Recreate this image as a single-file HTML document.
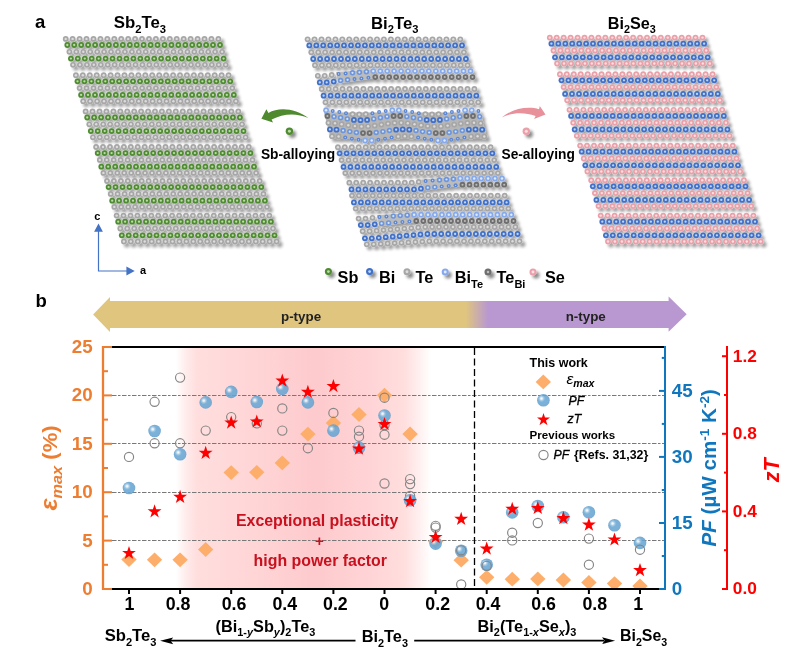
<!DOCTYPE html><html><head><meta charset="utf-8"><title>Figure</title><style>html,body{margin:0;padding:0;background:#fff}svg{display:block}text{font-family:"Liberation Sans",Arial,sans-serif}</style></head><body>
<svg width="793" height="652" viewBox="0 0 793 652">
<defs><g id="aG"><circle r="2.9" fill="#a6a6a6"/><circle r="1.2" fill="#dcdcdc"/></g><g id="aS"><circle r="2.9" fill="#4f8b30"/><circle r="1.15" fill="#bcdcaa"/></g><g id="aB"><circle r="2.9" fill="#4070c8"/><circle r="1.15" fill="#c2d6f6"/></g><g id="aP"><circle r="2.9" fill="#eb9fa8"/><circle r="1.2" fill="#fbe0e2"/></g><g id="aL"><circle r="2.9" fill="#86a9ea"/><circle r="1.2" fill="#e0eaff"/></g><g id="aD"><circle r="2.9" fill="#6e6e6e"/><circle r="1.05" fill="#bcbcbc"/></g><g id="aM"><circle r="2.7" fill="#6c95dc"/><circle r="1.1" fill="#d8e4fa"/></g><g id="as"><circle r="2.0" fill="#5c86d2"/><circle r="0.65" fill="#c4d5f4"/></g><filter id="sh" x="-10%" y="-10%" width="125%" height="125%"><feGaussianBlur in="SourceAlpha" stdDeviation="1.5"/><feOffset dx="3.0" dy="3.0"/><feComponentTransfer result="shd"><feFuncA type="linear" slope="0.38"/></feComponentTransfer><feGaussianBlur in="SourceGraphic" stdDeviation="0.5" result="soft"/><feMerge><feMergeNode in="shd"/><feMergeNode in="soft"/></feMerge></filter><filter id="sh2" x="-100%" y="-100%" width="400%" height="400%"><feDropShadow dx="3" dy="3" stdDeviation="1.6" flood-color="#000" flood-opacity="0.45"/></filter><radialGradient id="sph" cx="0.5" cy="0.5" r="0.5"><stop offset="0" stop-color="#6aa9d6"/><stop offset="0.8" stop-color="#68a6d3"/><stop offset="1" stop-color="#5f9ecd"/></radialGradient><radialGradient id="glint" cx="0.5" cy="0.5" r="0.5"><stop offset="0" stop-color="#fff" stop-opacity="0.98"/><stop offset="0.25" stop-color="#fff" stop-opacity="0.8"/><stop offset="0.6" stop-color="#fff" stop-opacity="0.3"/><stop offset="1" stop-color="#fff" stop-opacity="0"/></radialGradient><linearGradient id="pink" x1="0" x2="1" y1="0" y2="0"><stop offset="0.0000" stop-color="#ffdede" stop-opacity="0"/><stop offset="0.0391" stop-color="#ffdede" stop-opacity="0.6"/><stop offset="0.0820" stop-color="#ffdede" stop-opacity="1"/><stop offset="0.3086" stop-color="#ffd5d6" stop-opacity="1"/><stop offset="0.5430" stop-color="#fdcacd" stop-opacity="1"/><stop offset="0.7578" stop-color="#ffd4d6" stop-opacity="1"/><stop offset="0.8906" stop-color="#ffdede" stop-opacity="1"/><stop offset="0.9414" stop-color="#ffdede" stop-opacity="0.55"/><stop offset="0.9961" stop-color="#ffdede" stop-opacity="0"/></linearGradient><linearGradient id="ban" x1="0" x2="1" y1="0" y2="0"><stop offset="0.0000" stop-color="#dfc57e"/><stop offset="0.6279" stop-color="#dfc57e"/><stop offset="0.6650" stop-color="#b998d1"/><stop offset="1.0000" stop-color="#b998d1"/></linearGradient><clipPath id="plot"><rect x="104" y="348" width="560" height="240"/></clipPath></defs>
<rect width="793" height="652" fill="#fff"/>
<g filter="url(#sh)"><use href="#aG" x="65.7" y="38.9"/><use href="#aG" x="72.6" y="38.9"/><use href="#aG" x="79.6" y="38.9"/><use href="#aG" x="86.5" y="38.9"/><use href="#aG" x="93.5" y="38.9"/><use href="#aG" x="100.4" y="38.9"/><use href="#aG" x="107.3" y="38.9"/><use href="#aG" x="114.3" y="38.9"/><use href="#aG" x="121.2" y="38.9"/><use href="#aG" x="128.2" y="38.9"/><use href="#aG" x="135.1" y="38.9"/><use href="#aG" x="142.0" y="38.9"/><use href="#aG" x="149.0" y="38.9"/><use href="#aG" x="155.9" y="38.9"/><use href="#aG" x="162.9" y="38.9"/><use href="#aG" x="169.8" y="38.9"/><use href="#aG" x="176.7" y="38.9"/><use href="#aG" x="183.7" y="38.9"/><use href="#aG" x="190.6" y="38.9"/><use href="#aG" x="197.6" y="38.9"/><use href="#aG" x="204.5" y="38.9"/><use href="#aG" x="211.4" y="38.9"/><use href="#aG" x="218.4" y="38.9"/><use href="#aS" x="67.3" y="45.0"/><use href="#aS" x="74.2" y="45.0"/><use href="#aS" x="81.2" y="45.0"/><use href="#aS" x="88.1" y="45.0"/><use href="#aS" x="95.1" y="45.0"/><use href="#aS" x="102.0" y="45.0"/><use href="#aS" x="108.9" y="45.0"/><use href="#aS" x="115.9" y="45.0"/><use href="#aS" x="122.8" y="45.0"/><use href="#aS" x="129.8" y="45.0"/><use href="#aS" x="136.7" y="45.0"/><use href="#aS" x="143.6" y="45.0"/><use href="#aS" x="150.6" y="45.0"/><use href="#aS" x="157.5" y="45.0"/><use href="#aS" x="164.5" y="45.0"/><use href="#aS" x="171.4" y="45.0"/><use href="#aS" x="178.3" y="45.0"/><use href="#aS" x="185.3" y="45.0"/><use href="#aS" x="192.2" y="45.0"/><use href="#aS" x="199.2" y="45.0"/><use href="#aS" x="206.1" y="45.0"/><use href="#aS" x="213.0" y="45.0"/><use href="#aS" x="220.0" y="45.0"/><use href="#aG" x="69.4" y="51.8"/><use href="#aG" x="76.3" y="51.8"/><use href="#aG" x="83.3" y="51.8"/><use href="#aG" x="90.2" y="51.8"/><use href="#aG" x="97.2" y="51.8"/><use href="#aG" x="104.1" y="51.8"/><use href="#aG" x="111.0" y="51.8"/><use href="#aG" x="118.0" y="51.8"/><use href="#aG" x="124.9" y="51.8"/><use href="#aG" x="131.9" y="51.8"/><use href="#aG" x="138.8" y="51.8"/><use href="#aG" x="145.7" y="51.8"/><use href="#aG" x="152.7" y="51.8"/><use href="#aG" x="159.6" y="51.8"/><use href="#aG" x="166.6" y="51.8"/><use href="#aG" x="173.5" y="51.8"/><use href="#aG" x="180.4" y="51.8"/><use href="#aG" x="187.4" y="51.8"/><use href="#aG" x="194.3" y="51.8"/><use href="#aG" x="201.3" y="51.8"/><use href="#aG" x="208.2" y="51.8"/><use href="#aG" x="215.1" y="51.8"/><use href="#aG" x="222.1" y="51.8"/><use href="#aS" x="70.9" y="58.6"/><use href="#aS" x="77.8" y="58.6"/><use href="#aS" x="84.8" y="58.6"/><use href="#aS" x="91.7" y="58.6"/><use href="#aS" x="98.7" y="58.6"/><use href="#aS" x="105.6" y="58.6"/><use href="#aS" x="112.5" y="58.6"/><use href="#aS" x="119.5" y="58.6"/><use href="#aS" x="126.4" y="58.6"/><use href="#aS" x="133.4" y="58.6"/><use href="#aS" x="140.3" y="58.6"/><use href="#aS" x="147.2" y="58.6"/><use href="#aS" x="154.2" y="58.6"/><use href="#aS" x="161.1" y="58.6"/><use href="#aS" x="168.1" y="58.6"/><use href="#aS" x="175.0" y="58.6"/><use href="#aS" x="181.9" y="58.6"/><use href="#aS" x="188.9" y="58.6"/><use href="#aS" x="195.8" y="58.6"/><use href="#aS" x="202.8" y="58.6"/><use href="#aS" x="209.7" y="58.6"/><use href="#aS" x="216.6" y="58.6"/><use href="#aS" x="223.6" y="58.6"/><use href="#aG" x="73.0" y="64.8"/><use href="#aG" x="79.9" y="64.8"/><use href="#aG" x="86.9" y="64.8"/><use href="#aG" x="93.8" y="64.8"/><use href="#aG" x="100.8" y="64.8"/><use href="#aG" x="107.7" y="64.8"/><use href="#aG" x="114.6" y="64.8"/><use href="#aG" x="121.6" y="64.8"/><use href="#aG" x="128.5" y="64.8"/><use href="#aG" x="135.5" y="64.8"/><use href="#aG" x="142.4" y="64.8"/><use href="#aG" x="149.3" y="64.8"/><use href="#aG" x="156.3" y="64.8"/><use href="#aG" x="163.2" y="64.8"/><use href="#aG" x="170.2" y="64.8"/><use href="#aG" x="177.1" y="64.8"/><use href="#aG" x="184.0" y="64.8"/><use href="#aG" x="191.0" y="64.8"/><use href="#aG" x="197.9" y="64.8"/><use href="#aG" x="204.9" y="64.8"/><use href="#aG" x="211.8" y="64.8"/><use href="#aG" x="218.7" y="64.8"/><use href="#aG" x="225.7" y="64.8"/><use href="#aG" x="75.9" y="75.2"/><use href="#aG" x="82.8" y="75.2"/><use href="#aG" x="89.8" y="75.2"/><use href="#aG" x="96.7" y="75.2"/><use href="#aG" x="103.7" y="75.2"/><use href="#aG" x="110.6" y="75.2"/><use href="#aG" x="117.5" y="75.2"/><use href="#aG" x="124.5" y="75.2"/><use href="#aG" x="131.4" y="75.2"/><use href="#aG" x="138.4" y="75.2"/><use href="#aG" x="145.3" y="75.2"/><use href="#aG" x="152.2" y="75.2"/><use href="#aG" x="159.2" y="75.2"/><use href="#aG" x="166.1" y="75.2"/><use href="#aG" x="173.1" y="75.2"/><use href="#aG" x="180.0" y="75.2"/><use href="#aG" x="186.9" y="75.2"/><use href="#aG" x="193.9" y="75.2"/><use href="#aG" x="200.8" y="75.2"/><use href="#aG" x="207.8" y="75.2"/><use href="#aG" x="214.7" y="75.2"/><use href="#aG" x="221.6" y="75.2"/><use href="#aG" x="228.6" y="75.2"/><use href="#aS" x="77.5" y="81.3"/><use href="#aS" x="84.4" y="81.3"/><use href="#aS" x="91.4" y="81.3"/><use href="#aS" x="98.3" y="81.3"/><use href="#aS" x="105.3" y="81.3"/><use href="#aS" x="112.2" y="81.3"/><use href="#aS" x="119.1" y="81.3"/><use href="#aS" x="126.1" y="81.3"/><use href="#aS" x="133.0" y="81.3"/><use href="#aS" x="140.0" y="81.3"/><use href="#aS" x="146.9" y="81.3"/><use href="#aS" x="153.8" y="81.3"/><use href="#aS" x="160.8" y="81.3"/><use href="#aS" x="167.7" y="81.3"/><use href="#aS" x="174.7" y="81.3"/><use href="#aS" x="181.6" y="81.3"/><use href="#aS" x="188.5" y="81.3"/><use href="#aS" x="195.5" y="81.3"/><use href="#aS" x="202.4" y="81.3"/><use href="#aS" x="209.4" y="81.3"/><use href="#aS" x="216.3" y="81.3"/><use href="#aS" x="223.2" y="81.3"/><use href="#aS" x="230.2" y="81.3"/><use href="#aG" x="79.6" y="88.1"/><use href="#aG" x="86.5" y="88.1"/><use href="#aG" x="93.5" y="88.1"/><use href="#aG" x="100.4" y="88.1"/><use href="#aG" x="107.4" y="88.1"/><use href="#aG" x="114.3" y="88.1"/><use href="#aG" x="121.2" y="88.1"/><use href="#aG" x="128.2" y="88.1"/><use href="#aG" x="135.1" y="88.1"/><use href="#aG" x="142.1" y="88.1"/><use href="#aG" x="149.0" y="88.1"/><use href="#aG" x="155.9" y="88.1"/><use href="#aG" x="162.9" y="88.1"/><use href="#aG" x="169.8" y="88.1"/><use href="#aG" x="176.8" y="88.1"/><use href="#aG" x="183.7" y="88.1"/><use href="#aG" x="190.6" y="88.1"/><use href="#aG" x="197.6" y="88.1"/><use href="#aG" x="204.5" y="88.1"/><use href="#aG" x="211.5" y="88.1"/><use href="#aG" x="218.4" y="88.1"/><use href="#aG" x="225.3" y="88.1"/><use href="#aG" x="232.3" y="88.1"/><use href="#aS" x="81.1" y="94.9"/><use href="#aS" x="88.0" y="94.9"/><use href="#aS" x="95.0" y="94.9"/><use href="#aS" x="101.9" y="94.9"/><use href="#aS" x="108.9" y="94.9"/><use href="#aS" x="115.8" y="94.9"/><use href="#aS" x="122.7" y="94.9"/><use href="#aS" x="129.7" y="94.9"/><use href="#aS" x="136.6" y="94.9"/><use href="#aS" x="143.6" y="94.9"/><use href="#aS" x="150.5" y="94.9"/><use href="#aS" x="157.4" y="94.9"/><use href="#aS" x="164.4" y="94.9"/><use href="#aS" x="171.3" y="94.9"/><use href="#aS" x="178.3" y="94.9"/><use href="#aS" x="185.2" y="94.9"/><use href="#aS" x="192.1" y="94.9"/><use href="#aS" x="199.1" y="94.9"/><use href="#aS" x="206.0" y="94.9"/><use href="#aS" x="213.0" y="94.9"/><use href="#aS" x="219.9" y="94.9"/><use href="#aS" x="226.8" y="94.9"/><use href="#aS" x="233.8" y="94.9"/><use href="#aG" x="83.2" y="101.2"/><use href="#aG" x="90.1" y="101.2"/><use href="#aG" x="97.1" y="101.2"/><use href="#aG" x="104.0" y="101.2"/><use href="#aG" x="111.0" y="101.2"/><use href="#aG" x="117.9" y="101.2"/><use href="#aG" x="124.8" y="101.2"/><use href="#aG" x="131.8" y="101.2"/><use href="#aG" x="138.7" y="101.2"/><use href="#aG" x="145.7" y="101.2"/><use href="#aG" x="152.6" y="101.2"/><use href="#aG" x="159.5" y="101.2"/><use href="#aG" x="166.5" y="101.2"/><use href="#aG" x="173.4" y="101.2"/><use href="#aG" x="180.4" y="101.2"/><use href="#aG" x="187.3" y="101.2"/><use href="#aG" x="194.2" y="101.2"/><use href="#aG" x="201.2" y="101.2"/><use href="#aG" x="208.1" y="101.2"/><use href="#aG" x="215.1" y="101.2"/><use href="#aG" x="222.0" y="101.2"/><use href="#aG" x="228.9" y="101.2"/><use href="#aG" x="235.9" y="101.2"/><use href="#aG" x="85.6" y="111.4"/><use href="#aG" x="92.5" y="111.4"/><use href="#aG" x="99.5" y="111.4"/><use href="#aG" x="106.4" y="111.4"/><use href="#aG" x="113.4" y="111.4"/><use href="#aG" x="120.3" y="111.4"/><use href="#aG" x="127.2" y="111.4"/><use href="#aG" x="134.2" y="111.4"/><use href="#aG" x="141.1" y="111.4"/><use href="#aG" x="148.1" y="111.4"/><use href="#aG" x="155.0" y="111.4"/><use href="#aG" x="161.9" y="111.4"/><use href="#aG" x="168.9" y="111.4"/><use href="#aG" x="175.8" y="111.4"/><use href="#aG" x="182.8" y="111.4"/><use href="#aG" x="189.7" y="111.4"/><use href="#aG" x="196.6" y="111.4"/><use href="#aG" x="203.6" y="111.4"/><use href="#aG" x="210.5" y="111.4"/><use href="#aG" x="217.5" y="111.4"/><use href="#aG" x="224.4" y="111.4"/><use href="#aG" x="231.3" y="111.4"/><use href="#aG" x="238.3" y="111.4"/><use href="#aS" x="87.2" y="117.5"/><use href="#aS" x="94.1" y="117.5"/><use href="#aS" x="101.1" y="117.5"/><use href="#aS" x="108.0" y="117.5"/><use href="#aS" x="115.0" y="117.5"/><use href="#aS" x="121.9" y="117.5"/><use href="#aS" x="128.8" y="117.5"/><use href="#aS" x="135.8" y="117.5"/><use href="#aS" x="142.7" y="117.5"/><use href="#aS" x="149.7" y="117.5"/><use href="#aS" x="156.6" y="117.5"/><use href="#aS" x="163.5" y="117.5"/><use href="#aS" x="170.5" y="117.5"/><use href="#aS" x="177.4" y="117.5"/><use href="#aS" x="184.4" y="117.5"/><use href="#aS" x="191.3" y="117.5"/><use href="#aS" x="198.2" y="117.5"/><use href="#aS" x="205.2" y="117.5"/><use href="#aS" x="212.1" y="117.5"/><use href="#aS" x="219.1" y="117.5"/><use href="#aS" x="226.0" y="117.5"/><use href="#aS" x="232.9" y="117.5"/><use href="#aS" x="239.9" y="117.5"/><use href="#aG" x="89.3" y="124.3"/><use href="#aG" x="96.2" y="124.3"/><use href="#aG" x="103.2" y="124.3"/><use href="#aG" x="110.1" y="124.3"/><use href="#aG" x="117.1" y="124.3"/><use href="#aG" x="124.0" y="124.3"/><use href="#aG" x="130.9" y="124.3"/><use href="#aG" x="137.9" y="124.3"/><use href="#aG" x="144.8" y="124.3"/><use href="#aG" x="151.8" y="124.3"/><use href="#aG" x="158.7" y="124.3"/><use href="#aG" x="165.6" y="124.3"/><use href="#aG" x="172.6" y="124.3"/><use href="#aG" x="179.5" y="124.3"/><use href="#aG" x="186.5" y="124.3"/><use href="#aG" x="193.4" y="124.3"/><use href="#aG" x="200.3" y="124.3"/><use href="#aG" x="207.3" y="124.3"/><use href="#aG" x="214.2" y="124.3"/><use href="#aG" x="221.2" y="124.3"/><use href="#aG" x="228.1" y="124.3"/><use href="#aG" x="235.0" y="124.3"/><use href="#aG" x="242.0" y="124.3"/><use href="#aS" x="90.8" y="131.1"/><use href="#aS" x="97.7" y="131.1"/><use href="#aS" x="104.7" y="131.1"/><use href="#aS" x="111.6" y="131.1"/><use href="#aS" x="118.6" y="131.1"/><use href="#aS" x="125.5" y="131.1"/><use href="#aS" x="132.4" y="131.1"/><use href="#aS" x="139.4" y="131.1"/><use href="#aS" x="146.3" y="131.1"/><use href="#aS" x="153.3" y="131.1"/><use href="#aS" x="160.2" y="131.1"/><use href="#aS" x="167.1" y="131.1"/><use href="#aS" x="174.1" y="131.1"/><use href="#aS" x="181.0" y="131.1"/><use href="#aS" x="188.0" y="131.1"/><use href="#aS" x="194.9" y="131.1"/><use href="#aS" x="201.8" y="131.1"/><use href="#aS" x="208.8" y="131.1"/><use href="#aS" x="215.7" y="131.1"/><use href="#aS" x="222.7" y="131.1"/><use href="#aS" x="229.6" y="131.1"/><use href="#aS" x="236.5" y="131.1"/><use href="#aS" x="243.5" y="131.1"/><use href="#aG" x="92.9" y="137.3"/><use href="#aG" x="99.8" y="137.3"/><use href="#aG" x="106.8" y="137.3"/><use href="#aG" x="113.7" y="137.3"/><use href="#aG" x="120.7" y="137.3"/><use href="#aG" x="127.6" y="137.3"/><use href="#aG" x="134.5" y="137.3"/><use href="#aG" x="141.5" y="137.3"/><use href="#aG" x="148.4" y="137.3"/><use href="#aG" x="155.4" y="137.3"/><use href="#aG" x="162.3" y="137.3"/><use href="#aG" x="169.2" y="137.3"/><use href="#aG" x="176.2" y="137.3"/><use href="#aG" x="183.1" y="137.3"/><use href="#aG" x="190.1" y="137.3"/><use href="#aG" x="197.0" y="137.3"/><use href="#aG" x="203.9" y="137.3"/><use href="#aG" x="210.9" y="137.3"/><use href="#aG" x="217.8" y="137.3"/><use href="#aG" x="224.8" y="137.3"/><use href="#aG" x="231.7" y="137.3"/><use href="#aG" x="238.6" y="137.3"/><use href="#aG" x="245.6" y="137.3"/><use href="#aG" x="96.1" y="147.0"/><use href="#aG" x="103.0" y="147.0"/><use href="#aG" x="110.0" y="147.0"/><use href="#aG" x="116.9" y="147.0"/><use href="#aG" x="123.9" y="147.0"/><use href="#aG" x="130.8" y="147.0"/><use href="#aG" x="137.7" y="147.0"/><use href="#aG" x="144.7" y="147.0"/><use href="#aG" x="151.6" y="147.0"/><use href="#aG" x="158.6" y="147.0"/><use href="#aG" x="165.5" y="147.0"/><use href="#aG" x="172.4" y="147.0"/><use href="#aG" x="179.4" y="147.0"/><use href="#aG" x="186.3" y="147.0"/><use href="#aG" x="193.3" y="147.0"/><use href="#aG" x="200.2" y="147.0"/><use href="#aG" x="207.1" y="147.0"/><use href="#aG" x="214.1" y="147.0"/><use href="#aG" x="221.0" y="147.0"/><use href="#aG" x="228.0" y="147.0"/><use href="#aG" x="234.9" y="147.0"/><use href="#aG" x="241.8" y="147.0"/><use href="#aG" x="248.8" y="147.0"/><use href="#aS" x="97.7" y="153.1"/><use href="#aS" x="104.6" y="153.1"/><use href="#aS" x="111.6" y="153.1"/><use href="#aS" x="118.5" y="153.1"/><use href="#aS" x="125.5" y="153.1"/><use href="#aS" x="132.4" y="153.1"/><use href="#aS" x="139.3" y="153.1"/><use href="#aS" x="146.3" y="153.1"/><use href="#aS" x="153.2" y="153.1"/><use href="#aS" x="160.2" y="153.1"/><use href="#aS" x="167.1" y="153.1"/><use href="#aS" x="174.0" y="153.1"/><use href="#aS" x="181.0" y="153.1"/><use href="#aS" x="187.9" y="153.1"/><use href="#aS" x="194.9" y="153.1"/><use href="#aS" x="201.8" y="153.1"/><use href="#aS" x="208.7" y="153.1"/><use href="#aS" x="215.7" y="153.1"/><use href="#aS" x="222.6" y="153.1"/><use href="#aS" x="229.6" y="153.1"/><use href="#aS" x="236.5" y="153.1"/><use href="#aS" x="243.4" y="153.1"/><use href="#aS" x="250.4" y="153.1"/><use href="#aG" x="99.8" y="159.9"/><use href="#aG" x="106.7" y="159.9"/><use href="#aG" x="113.7" y="159.9"/><use href="#aG" x="120.6" y="159.9"/><use href="#aG" x="127.6" y="159.9"/><use href="#aG" x="134.5" y="159.9"/><use href="#aG" x="141.4" y="159.9"/><use href="#aG" x="148.4" y="159.9"/><use href="#aG" x="155.3" y="159.9"/><use href="#aG" x="162.3" y="159.9"/><use href="#aG" x="169.2" y="159.9"/><use href="#aG" x="176.1" y="159.9"/><use href="#aG" x="183.1" y="159.9"/><use href="#aG" x="190.0" y="159.9"/><use href="#aG" x="197.0" y="159.9"/><use href="#aG" x="203.9" y="159.9"/><use href="#aG" x="210.8" y="159.9"/><use href="#aG" x="217.8" y="159.9"/><use href="#aG" x="224.7" y="159.9"/><use href="#aG" x="231.7" y="159.9"/><use href="#aG" x="238.6" y="159.9"/><use href="#aG" x="245.5" y="159.9"/><use href="#aG" x="252.5" y="159.9"/><use href="#aS" x="101.3" y="166.7"/><use href="#aS" x="108.2" y="166.7"/><use href="#aS" x="115.2" y="166.7"/><use href="#aS" x="122.1" y="166.7"/><use href="#aS" x="129.1" y="166.7"/><use href="#aS" x="136.0" y="166.7"/><use href="#aS" x="142.9" y="166.7"/><use href="#aS" x="149.9" y="166.7"/><use href="#aS" x="156.8" y="166.7"/><use href="#aS" x="163.8" y="166.7"/><use href="#aS" x="170.7" y="166.7"/><use href="#aS" x="177.6" y="166.7"/><use href="#aS" x="184.6" y="166.7"/><use href="#aS" x="191.5" y="166.7"/><use href="#aS" x="198.5" y="166.7"/><use href="#aS" x="205.4" y="166.7"/><use href="#aS" x="212.3" y="166.7"/><use href="#aS" x="219.3" y="166.7"/><use href="#aS" x="226.2" y="166.7"/><use href="#aS" x="233.2" y="166.7"/><use href="#aS" x="240.1" y="166.7"/><use href="#aS" x="247.0" y="166.7"/><use href="#aS" x="254.0" y="166.7"/><use href="#aG" x="103.4" y="172.9"/><use href="#aG" x="110.3" y="172.9"/><use href="#aG" x="117.3" y="172.9"/><use href="#aG" x="124.2" y="172.9"/><use href="#aG" x="131.2" y="172.9"/><use href="#aG" x="138.1" y="172.9"/><use href="#aG" x="145.0" y="172.9"/><use href="#aG" x="152.0" y="172.9"/><use href="#aG" x="158.9" y="172.9"/><use href="#aG" x="165.9" y="172.9"/><use href="#aG" x="172.8" y="172.9"/><use href="#aG" x="179.7" y="172.9"/><use href="#aG" x="186.7" y="172.9"/><use href="#aG" x="193.6" y="172.9"/><use href="#aG" x="200.6" y="172.9"/><use href="#aG" x="207.5" y="172.9"/><use href="#aG" x="214.4" y="172.9"/><use href="#aG" x="221.4" y="172.9"/><use href="#aG" x="228.3" y="172.9"/><use href="#aG" x="235.3" y="172.9"/><use href="#aG" x="242.2" y="172.9"/><use href="#aG" x="249.1" y="172.9"/><use href="#aG" x="256.1" y="172.9"/><use href="#aG" x="107.0" y="181.0"/><use href="#aG" x="113.9" y="181.0"/><use href="#aG" x="120.9" y="181.0"/><use href="#aG" x="127.8" y="181.0"/><use href="#aG" x="134.8" y="181.0"/><use href="#aG" x="141.7" y="181.0"/><use href="#aG" x="148.6" y="181.0"/><use href="#aG" x="155.6" y="181.0"/><use href="#aG" x="162.5" y="181.0"/><use href="#aG" x="169.5" y="181.0"/><use href="#aG" x="176.4" y="181.0"/><use href="#aG" x="183.3" y="181.0"/><use href="#aG" x="190.3" y="181.0"/><use href="#aG" x="197.2" y="181.0"/><use href="#aG" x="204.2" y="181.0"/><use href="#aG" x="211.1" y="181.0"/><use href="#aG" x="218.0" y="181.0"/><use href="#aG" x="225.0" y="181.0"/><use href="#aG" x="231.9" y="181.0"/><use href="#aG" x="238.9" y="181.0"/><use href="#aG" x="245.8" y="181.0"/><use href="#aG" x="252.7" y="181.0"/><use href="#aG" x="259.7" y="181.0"/><use href="#aS" x="108.6" y="187.1"/><use href="#aS" x="115.5" y="187.1"/><use href="#aS" x="122.5" y="187.1"/><use href="#aS" x="129.4" y="187.1"/><use href="#aS" x="136.4" y="187.1"/><use href="#aS" x="143.3" y="187.1"/><use href="#aS" x="150.2" y="187.1"/><use href="#aS" x="157.2" y="187.1"/><use href="#aS" x="164.1" y="187.1"/><use href="#aS" x="171.1" y="187.1"/><use href="#aS" x="178.0" y="187.1"/><use href="#aS" x="184.9" y="187.1"/><use href="#aS" x="191.9" y="187.1"/><use href="#aS" x="198.8" y="187.1"/><use href="#aS" x="205.8" y="187.1"/><use href="#aS" x="212.7" y="187.1"/><use href="#aS" x="219.6" y="187.1"/><use href="#aS" x="226.6" y="187.1"/><use href="#aS" x="233.5" y="187.1"/><use href="#aS" x="240.5" y="187.1"/><use href="#aS" x="247.4" y="187.1"/><use href="#aS" x="254.3" y="187.1"/><use href="#aS" x="261.3" y="187.1"/><use href="#aG" x="110.7" y="193.9"/><use href="#aG" x="117.6" y="193.9"/><use href="#aG" x="124.6" y="193.9"/><use href="#aG" x="131.5" y="193.9"/><use href="#aG" x="138.5" y="193.9"/><use href="#aG" x="145.4" y="193.9"/><use href="#aG" x="152.3" y="193.9"/><use href="#aG" x="159.3" y="193.9"/><use href="#aG" x="166.2" y="193.9"/><use href="#aG" x="173.2" y="193.9"/><use href="#aG" x="180.1" y="193.9"/><use href="#aG" x="187.0" y="193.9"/><use href="#aG" x="194.0" y="193.9"/><use href="#aG" x="200.9" y="193.9"/><use href="#aG" x="207.9" y="193.9"/><use href="#aG" x="214.8" y="193.9"/><use href="#aG" x="221.7" y="193.9"/><use href="#aG" x="228.7" y="193.9"/><use href="#aG" x="235.6" y="193.9"/><use href="#aG" x="242.6" y="193.9"/><use href="#aG" x="249.5" y="193.9"/><use href="#aG" x="256.4" y="193.9"/><use href="#aG" x="263.4" y="193.9"/><use href="#aS" x="112.2" y="200.7"/><use href="#aS" x="119.1" y="200.7"/><use href="#aS" x="126.1" y="200.7"/><use href="#aS" x="133.0" y="200.7"/><use href="#aS" x="140.0" y="200.7"/><use href="#aS" x="146.9" y="200.7"/><use href="#aS" x="153.8" y="200.7"/><use href="#aS" x="160.8" y="200.7"/><use href="#aS" x="167.7" y="200.7"/><use href="#aS" x="174.7" y="200.7"/><use href="#aS" x="181.6" y="200.7"/><use href="#aS" x="188.5" y="200.7"/><use href="#aS" x="195.5" y="200.7"/><use href="#aS" x="202.4" y="200.7"/><use href="#aS" x="209.4" y="200.7"/><use href="#aS" x="216.3" y="200.7"/><use href="#aS" x="223.2" y="200.7"/><use href="#aS" x="230.2" y="200.7"/><use href="#aS" x="237.1" y="200.7"/><use href="#aS" x="244.1" y="200.7"/><use href="#aS" x="251.0" y="200.7"/><use href="#aS" x="257.9" y="200.7"/><use href="#aS" x="264.9" y="200.7"/><use href="#aG" x="114.3" y="206.9"/><use href="#aG" x="121.2" y="206.9"/><use href="#aG" x="128.2" y="206.9"/><use href="#aG" x="135.1" y="206.9"/><use href="#aG" x="142.1" y="206.9"/><use href="#aG" x="149.0" y="206.9"/><use href="#aG" x="155.9" y="206.9"/><use href="#aG" x="162.9" y="206.9"/><use href="#aG" x="169.8" y="206.9"/><use href="#aG" x="176.8" y="206.9"/><use href="#aG" x="183.7" y="206.9"/><use href="#aG" x="190.6" y="206.9"/><use href="#aG" x="197.6" y="206.9"/><use href="#aG" x="204.5" y="206.9"/><use href="#aG" x="211.5" y="206.9"/><use href="#aG" x="218.4" y="206.9"/><use href="#aG" x="225.3" y="206.9"/><use href="#aG" x="232.3" y="206.9"/><use href="#aG" x="239.2" y="206.9"/><use href="#aG" x="246.2" y="206.9"/><use href="#aG" x="253.1" y="206.9"/><use href="#aG" x="260.0" y="206.9"/><use href="#aG" x="267.0" y="206.9"/><use href="#aG" x="116.6" y="215.6"/><use href="#aG" x="123.5" y="215.6"/><use href="#aG" x="130.5" y="215.6"/><use href="#aG" x="137.4" y="215.6"/><use href="#aG" x="144.4" y="215.6"/><use href="#aG" x="151.3" y="215.6"/><use href="#aG" x="158.2" y="215.6"/><use href="#aG" x="165.2" y="215.6"/><use href="#aG" x="172.1" y="215.6"/><use href="#aG" x="179.1" y="215.6"/><use href="#aG" x="186.0" y="215.6"/><use href="#aG" x="192.9" y="215.6"/><use href="#aG" x="199.9" y="215.6"/><use href="#aG" x="206.8" y="215.6"/><use href="#aG" x="213.8" y="215.6"/><use href="#aG" x="220.7" y="215.6"/><use href="#aG" x="227.6" y="215.6"/><use href="#aG" x="234.6" y="215.6"/><use href="#aG" x="241.5" y="215.6"/><use href="#aG" x="248.5" y="215.6"/><use href="#aG" x="255.4" y="215.6"/><use href="#aG" x="262.3" y="215.6"/><use href="#aG" x="269.3" y="215.6"/><use href="#aS" x="118.2" y="221.7"/><use href="#aS" x="125.1" y="221.7"/><use href="#aS" x="132.1" y="221.7"/><use href="#aS" x="139.0" y="221.7"/><use href="#aS" x="146.0" y="221.7"/><use href="#aS" x="152.9" y="221.7"/><use href="#aS" x="159.8" y="221.7"/><use href="#aS" x="166.8" y="221.7"/><use href="#aS" x="173.7" y="221.7"/><use href="#aS" x="180.7" y="221.7"/><use href="#aS" x="187.6" y="221.7"/><use href="#aS" x="194.5" y="221.7"/><use href="#aS" x="201.5" y="221.7"/><use href="#aS" x="208.4" y="221.7"/><use href="#aS" x="215.4" y="221.7"/><use href="#aS" x="222.3" y="221.7"/><use href="#aS" x="229.2" y="221.7"/><use href="#aS" x="236.2" y="221.7"/><use href="#aS" x="243.1" y="221.7"/><use href="#aS" x="250.1" y="221.7"/><use href="#aS" x="257.0" y="221.7"/><use href="#aS" x="263.9" y="221.7"/><use href="#aS" x="270.9" y="221.7"/><use href="#aG" x="120.3" y="228.5"/><use href="#aG" x="127.2" y="228.5"/><use href="#aG" x="134.2" y="228.5"/><use href="#aG" x="141.1" y="228.5"/><use href="#aG" x="148.1" y="228.5"/><use href="#aG" x="155.0" y="228.5"/><use href="#aG" x="161.9" y="228.5"/><use href="#aG" x="168.9" y="228.5"/><use href="#aG" x="175.8" y="228.5"/><use href="#aG" x="182.8" y="228.5"/><use href="#aG" x="189.7" y="228.5"/><use href="#aG" x="196.6" y="228.5"/><use href="#aG" x="203.6" y="228.5"/><use href="#aG" x="210.5" y="228.5"/><use href="#aG" x="217.5" y="228.5"/><use href="#aG" x="224.4" y="228.5"/><use href="#aG" x="231.3" y="228.5"/><use href="#aG" x="238.3" y="228.5"/><use href="#aG" x="245.2" y="228.5"/><use href="#aG" x="252.2" y="228.5"/><use href="#aG" x="259.1" y="228.5"/><use href="#aG" x="266.0" y="228.5"/><use href="#aG" x="273.0" y="228.5"/><use href="#aS" x="121.8" y="235.3"/><use href="#aS" x="128.7" y="235.3"/><use href="#aS" x="135.7" y="235.3"/><use href="#aS" x="142.6" y="235.3"/><use href="#aS" x="149.6" y="235.3"/><use href="#aS" x="156.5" y="235.3"/><use href="#aS" x="163.4" y="235.3"/><use href="#aS" x="170.4" y="235.3"/><use href="#aS" x="177.3" y="235.3"/><use href="#aS" x="184.3" y="235.3"/><use href="#aS" x="191.2" y="235.3"/><use href="#aS" x="198.1" y="235.3"/><use href="#aS" x="205.1" y="235.3"/><use href="#aS" x="212.0" y="235.3"/><use href="#aS" x="219.0" y="235.3"/><use href="#aS" x="225.9" y="235.3"/><use href="#aS" x="232.8" y="235.3"/><use href="#aS" x="239.8" y="235.3"/><use href="#aS" x="246.7" y="235.3"/><use href="#aS" x="253.7" y="235.3"/><use href="#aS" x="260.6" y="235.3"/><use href="#aS" x="267.5" y="235.3"/><use href="#aS" x="274.5" y="235.3"/><use href="#aG" x="123.9" y="241.5"/><use href="#aG" x="130.8" y="241.5"/><use href="#aG" x="137.8" y="241.5"/><use href="#aG" x="144.7" y="241.5"/><use href="#aG" x="151.7" y="241.5"/><use href="#aG" x="158.6" y="241.5"/><use href="#aG" x="165.5" y="241.5"/><use href="#aG" x="172.5" y="241.5"/><use href="#aG" x="179.4" y="241.5"/><use href="#aG" x="186.4" y="241.5"/><use href="#aG" x="193.3" y="241.5"/><use href="#aG" x="200.2" y="241.5"/><use href="#aG" x="207.2" y="241.5"/><use href="#aG" x="214.1" y="241.5"/><use href="#aG" x="221.1" y="241.5"/><use href="#aG" x="228.0" y="241.5"/><use href="#aG" x="234.9" y="241.5"/><use href="#aG" x="241.9" y="241.5"/><use href="#aG" x="248.8" y="241.5"/><use href="#aG" x="255.8" y="241.5"/><use href="#aG" x="262.7" y="241.5"/><use href="#aG" x="269.6" y="241.5"/><use href="#aG" x="276.6" y="241.5"/></g>
<g filter="url(#sh)"><path d="M324,112.5 L480.5,112.5 L487,139 L331,139 Z" fill="#b6b6b6"/><path d="M336,72 L372,69.5 L374,78.5 L338,83 Z" fill="#bcbcbc"/><path d="M421,179.5 L458,177 L460,186 L424,190 Z" fill="#bcbcbc"/><path d="M377,215 L413,213 L415,222 L379,226 Z" fill="#bcbcbc"/><use href="#aG" x="307.6" y="39.3"/><use href="#aG" x="314.5" y="39.3"/><use href="#aG" x="321.5" y="39.3"/><use href="#aG" x="328.4" y="39.3"/><use href="#aG" x="335.4" y="39.3"/><use href="#aG" x="342.3" y="39.3"/><use href="#aG" x="349.2" y="39.3"/><use href="#aG" x="356.2" y="39.3"/><use href="#aG" x="363.1" y="39.3"/><use href="#aG" x="370.1" y="39.3"/><use href="#aG" x="377.0" y="39.3"/><use href="#aG" x="383.9" y="39.3"/><use href="#aG" x="390.9" y="39.3"/><use href="#aG" x="397.8" y="39.3"/><use href="#aG" x="404.8" y="39.3"/><use href="#aG" x="411.7" y="39.3"/><use href="#aG" x="418.6" y="39.3"/><use href="#aG" x="425.6" y="39.3"/><use href="#aG" x="432.5" y="39.3"/><use href="#aG" x="439.5" y="39.3"/><use href="#aG" x="446.4" y="39.3"/><use href="#aG" x="453.3" y="39.3"/><use href="#aG" x="460.3" y="39.3"/><use href="#aB" x="309.3" y="45.4"/><use href="#aB" x="316.3" y="45.4"/><use href="#aB" x="323.2" y="45.4"/><use href="#aB" x="330.2" y="45.4"/><use href="#aB" x="337.1" y="45.4"/><use href="#aB" x="344.0" y="45.4"/><use href="#aB" x="351.0" y="45.4"/><use href="#aB" x="357.9" y="45.4"/><use href="#aB" x="364.9" y="45.4"/><use href="#aB" x="371.8" y="45.4"/><use href="#aB" x="378.7" y="45.4"/><use href="#aB" x="385.7" y="45.4"/><use href="#aB" x="392.6" y="45.4"/><use href="#aB" x="399.6" y="45.4"/><use href="#aB" x="406.5" y="45.4"/><use href="#aB" x="413.4" y="45.4"/><use href="#aB" x="420.4" y="45.4"/><use href="#aB" x="427.3" y="45.4"/><use href="#aB" x="434.3" y="45.4"/><use href="#aB" x="441.2" y="45.4"/><use href="#aB" x="448.1" y="45.4"/><use href="#aB" x="455.1" y="45.4"/><use href="#aB" x="462.0" y="45.4"/><use href="#aG" x="311.3" y="52.2"/><use href="#aG" x="318.2" y="52.2"/><use href="#aG" x="325.1" y="52.2"/><use href="#aG" x="332.1" y="52.2"/><use href="#aG" x="339.0" y="52.2"/><use href="#aG" x="346.0" y="52.2"/><use href="#aG" x="352.9" y="52.2"/><use href="#aG" x="359.8" y="52.2"/><use href="#aG" x="366.8" y="52.2"/><use href="#aG" x="373.7" y="52.2"/><use href="#aG" x="380.7" y="52.2"/><use href="#aG" x="387.6" y="52.2"/><use href="#aG" x="394.5" y="52.2"/><use href="#aG" x="401.5" y="52.2"/><use href="#aG" x="408.4" y="52.2"/><use href="#aG" x="415.4" y="52.2"/><use href="#aG" x="422.3" y="52.2"/><use href="#aG" x="429.2" y="52.2"/><use href="#aG" x="436.2" y="52.2"/><use href="#aG" x="443.1" y="52.2"/><use href="#aG" x="450.1" y="52.2"/><use href="#aG" x="457.0" y="52.2"/><use href="#aG" x="463.9" y="52.2"/><use href="#aB" x="313.2" y="59.0"/><use href="#aB" x="320.1" y="59.0"/><use href="#aB" x="327.1" y="59.0"/><use href="#aB" x="334.0" y="59.0"/><use href="#aB" x="341.0" y="59.0"/><use href="#aB" x="347.9" y="59.0"/><use href="#aB" x="354.8" y="59.0"/><use href="#aB" x="361.8" y="59.0"/><use href="#aB" x="368.7" y="59.0"/><use href="#aB" x="375.7" y="59.0"/><use href="#aB" x="382.6" y="59.0"/><use href="#aB" x="389.5" y="59.0"/><use href="#aB" x="396.5" y="59.0"/><use href="#aB" x="403.4" y="59.0"/><use href="#aB" x="410.4" y="59.0"/><use href="#aB" x="417.3" y="59.0"/><use href="#aB" x="424.2" y="59.0"/><use href="#aB" x="431.2" y="59.0"/><use href="#aB" x="438.1" y="59.0"/><use href="#aB" x="445.1" y="59.0"/><use href="#aB" x="452.0" y="59.0"/><use href="#aB" x="458.9" y="59.0"/><use href="#aB" x="465.9" y="59.0"/><use href="#aG" x="315.0" y="65.2"/><use href="#aG" x="321.9" y="65.2"/><use href="#aG" x="328.8" y="65.2"/><use href="#aG" x="335.8" y="65.2"/><use href="#aG" x="342.7" y="65.2"/><use href="#aG" x="349.7" y="65.2"/><use href="#aG" x="356.6" y="65.2"/><use href="#aG" x="363.5" y="65.2"/><use href="#aG" x="370.5" y="65.2"/><use href="#aG" x="377.4" y="65.2"/><use href="#aG" x="384.4" y="65.2"/><use href="#aG" x="391.3" y="65.2"/><use href="#aG" x="398.2" y="65.2"/><use href="#aG" x="405.2" y="65.2"/><use href="#aG" x="412.1" y="65.2"/><use href="#aG" x="419.1" y="65.2"/><use href="#aG" x="426.0" y="65.2"/><use href="#aG" x="432.9" y="65.2"/><use href="#aG" x="439.9" y="65.2"/><use href="#aG" x="446.8" y="65.2"/><use href="#aG" x="453.8" y="65.2"/><use href="#aG" x="460.7" y="65.2"/><use href="#aG" x="467.6" y="65.2"/><use href="#aG" x="317.8" y="75.8"/><use href="#aG" x="324.7" y="75.8"/><use href="#aG" x="331.7" y="75.0"/><use href="#as" x="338.6" y="74.0"/><use href="#as" x="345.6" y="73.4"/><use href="#aM" x="352.5" y="72.8"/><use href="#aM" x="359.4" y="72.3"/><use href="#aM" x="366.4" y="71.7"/><use href="#aL" x="373.3" y="71.1"/><use href="#aL" x="380.3" y="71.1"/><use href="#aL" x="387.2" y="71.1"/><use href="#aL" x="394.1" y="71.1"/><use href="#aL" x="401.1" y="71.1"/><use href="#aL" x="408.0" y="71.1"/><use href="#aL" x="415.0" y="71.1"/><use href="#aL" x="421.9" y="71.1"/><use href="#aL" x="428.8" y="71.1"/><use href="#aL" x="435.8" y="71.1"/><use href="#aL" x="442.7" y="71.1"/><use href="#aL" x="449.7" y="71.1"/><use href="#aL" x="456.6" y="71.1"/><use href="#aL" x="463.5" y="71.1"/><use href="#aL" x="470.5" y="71.1"/><use href="#aB" x="319.8" y="82.4"/><use href="#aB" x="326.7" y="82.4"/><use href="#aB" x="333.7" y="81.6"/><use href="#aM" x="340.6" y="80.5"/><use href="#aM" x="347.6" y="79.8"/><use href="#as" x="354.5" y="79.1"/><use href="#as" x="361.4" y="78.5"/><use href="#as" x="368.4" y="77.8"/><use href="#aD" x="375.3" y="77.1"/><use href="#aD" x="382.3" y="77.1"/><use href="#aD" x="389.2" y="77.1"/><use href="#aD" x="396.1" y="77.1"/><use href="#aD" x="403.1" y="77.1"/><use href="#aD" x="410.0" y="77.1"/><use href="#aD" x="417.0" y="77.1"/><use href="#aD" x="423.9" y="77.1"/><use href="#aD" x="430.8" y="77.1"/><use href="#aD" x="437.8" y="77.1"/><use href="#aD" x="444.7" y="77.1"/><use href="#aD" x="451.7" y="77.1"/><use href="#aD" x="458.6" y="77.1"/><use href="#aD" x="465.5" y="77.1"/><use href="#aD" x="472.5" y="77.1"/><use href="#aG" x="321.7" y="89.0"/><use href="#aG" x="328.7" y="89.0"/><use href="#aG" x="335.6" y="89.0"/><use href="#aG" x="342.5" y="89.0"/><use href="#aG" x="349.5" y="89.0"/><use href="#aG" x="356.4" y="89.0"/><use href="#aG" x="363.4" y="89.0"/><use href="#aG" x="370.3" y="89.0"/><use href="#aG" x="377.2" y="89.0"/><use href="#aG" x="384.2" y="89.0"/><use href="#aG" x="391.1" y="89.0"/><use href="#aG" x="398.1" y="89.0"/><use href="#aG" x="405.0" y="89.0"/><use href="#aG" x="411.9" y="89.0"/><use href="#aG" x="418.9" y="89.0"/><use href="#aG" x="425.8" y="89.0"/><use href="#aG" x="432.8" y="89.0"/><use href="#aG" x="439.7" y="89.0"/><use href="#aG" x="446.6" y="89.0"/><use href="#aG" x="453.6" y="89.0"/><use href="#aG" x="460.5" y="89.0"/><use href="#aG" x="467.5" y="89.0"/><use href="#aG" x="474.4" y="89.0"/><use href="#aB" x="323.6" y="95.7"/><use href="#aB" x="330.6" y="95.7"/><use href="#aB" x="337.5" y="95.7"/><use href="#aB" x="344.4" y="95.7"/><use href="#aB" x="351.4" y="95.7"/><use href="#aB" x="358.3" y="95.7"/><use href="#aB" x="365.3" y="95.7"/><use href="#aB" x="372.2" y="95.7"/><use href="#aB" x="379.1" y="95.7"/><use href="#aB" x="386.1" y="95.7"/><use href="#aB" x="393.0" y="95.7"/><use href="#aB" x="400.0" y="95.7"/><use href="#aB" x="406.9" y="95.7"/><use href="#aB" x="413.8" y="95.7"/><use href="#aB" x="420.8" y="95.7"/><use href="#aB" x="427.7" y="95.7"/><use href="#aB" x="434.7" y="95.7"/><use href="#aB" x="441.6" y="95.7"/><use href="#aB" x="448.5" y="95.7"/><use href="#aB" x="455.5" y="95.7"/><use href="#aB" x="462.4" y="95.7"/><use href="#aB" x="469.4" y="95.7"/><use href="#aB" x="476.3" y="95.7"/><use href="#aG" x="325.5" y="102.3"/><use href="#aG" x="332.4" y="102.3"/><use href="#aG" x="339.4" y="102.3"/><use href="#aG" x="346.3" y="102.3"/><use href="#aG" x="353.3" y="102.3"/><use href="#aG" x="360.2" y="102.3"/><use href="#aG" x="367.1" y="102.3"/><use href="#aG" x="374.1" y="102.3"/><use href="#aG" x="381.0" y="102.3"/><use href="#aG" x="388.0" y="102.3"/><use href="#aG" x="394.9" y="102.3"/><use href="#aG" x="401.8" y="102.3"/><use href="#aG" x="408.8" y="102.3"/><use href="#aG" x="415.7" y="102.3"/><use href="#aG" x="422.7" y="102.3"/><use href="#aG" x="429.6" y="102.3"/><use href="#aG" x="436.5" y="102.3"/><use href="#aG" x="443.5" y="102.3"/><use href="#aG" x="450.4" y="102.3"/><use href="#aG" x="457.4" y="102.3"/><use href="#aG" x="464.3" y="102.3"/><use href="#aG" x="471.2" y="102.3"/><use href="#aG" x="478.2" y="102.3"/><use href="#aL" x="326.1" y="110.2"/><use href="#as" x="332.7" y="110.9"/><use href="#as" x="339.3" y="112.0"/><use href="#as" x="346.0" y="113.2"/><use href="#aG" x="352.6" y="114.2"/><use href="#aG" x="359.2" y="114.5"/><use href="#aG" x="365.8" y="114.2"/><use href="#as" x="372.4" y="113.2"/><use href="#as" x="379.1" y="112.0"/><use href="#as" x="385.7" y="110.9"/><use href="#aL" x="392.3" y="110.2"/><use href="#aL" x="398.9" y="110.2"/><use href="#as" x="405.5" y="110.9"/><use href="#as" x="412.2" y="112.0"/><use href="#as" x="418.8" y="113.2"/><use href="#aG" x="425.4" y="114.2"/><use href="#aG" x="432.0" y="114.5"/><use href="#aG" x="438.6" y="114.2"/><use href="#as" x="445.3" y="113.2"/><use href="#as" x="451.9" y="112.0"/><use href="#as" x="458.5" y="110.9"/><use href="#aL" x="465.1" y="110.2"/><use href="#aL" x="471.7" y="110.2"/><use href="#as" x="478.4" y="110.9"/><use href="#aD" x="327.4" y="116.0"/><use href="#aM" x="334.0" y="116.6"/><use href="#aM" x="340.6" y="117.7"/><use href="#aM" x="347.3" y="118.9"/><use href="#aB" x="353.9" y="119.9"/><use href="#aB" x="360.5" y="120.2"/><use href="#aB" x="367.1" y="119.9"/><use href="#aM" x="373.7" y="118.9"/><use href="#aM" x="380.4" y="117.7"/><use href="#aM" x="387.0" y="116.6"/><use href="#aD" x="393.6" y="116.0"/><use href="#aD" x="400.2" y="116.0"/><use href="#aM" x="406.8" y="116.6"/><use href="#aM" x="413.5" y="117.7"/><use href="#aM" x="420.1" y="118.9"/><use href="#aB" x="426.7" y="119.9"/><use href="#aB" x="433.3" y="120.2"/><use href="#aB" x="439.9" y="119.9"/><use href="#aM" x="446.6" y="118.9"/><use href="#aM" x="453.2" y="117.7"/><use href="#aM" x="459.8" y="116.6"/><use href="#aD" x="466.4" y="116.0"/><use href="#aD" x="473.0" y="116.0"/><use href="#aM" x="479.7" y="116.6"/><use href="#aG" x="328.4" y="122.8"/><use href="#aG" x="335.0" y="123.3"/><use href="#aG" x="341.6" y="124.2"/><use href="#aG" x="348.3" y="125.2"/><use href="#aG" x="354.9" y="126.1"/><use href="#aG" x="361.5" y="126.5"/><use href="#aG" x="368.1" y="126.3"/><use href="#aG" x="374.7" y="125.6"/><use href="#aG" x="381.4" y="124.6"/><use href="#aG" x="388.0" y="123.6"/><use href="#aG" x="394.6" y="122.9"/><use href="#aG" x="401.2" y="122.8"/><use href="#aG" x="407.8" y="123.3"/><use href="#aG" x="414.5" y="124.2"/><use href="#aG" x="421.1" y="125.2"/><use href="#aG" x="427.7" y="126.1"/><use href="#aG" x="434.3" y="126.5"/><use href="#aG" x="440.9" y="126.3"/><use href="#aG" x="447.6" y="125.6"/><use href="#aG" x="454.2" y="124.6"/><use href="#aG" x="460.8" y="123.6"/><use href="#aG" x="467.4" y="122.9"/><use href="#aG" x="474.0" y="122.8"/><use href="#aG" x="480.7" y="123.3"/><use href="#aB" x="329.9" y="129.4"/><use href="#aB" x="336.5" y="129.7"/><use href="#aM" x="343.1" y="130.5"/><use href="#aM" x="349.8" y="131.6"/><use href="#aM" x="356.4" y="132.5"/><use href="#aD" x="363.0" y="133.1"/><use href="#aD" x="369.6" y="133.1"/><use href="#aM" x="376.2" y="132.5"/><use href="#aM" x="382.9" y="131.6"/><use href="#aM" x="389.5" y="130.5"/><use href="#aB" x="396.1" y="129.7"/><use href="#aB" x="402.7" y="129.4"/><use href="#aB" x="409.3" y="129.7"/><use href="#aM" x="416.0" y="130.5"/><use href="#aM" x="422.6" y="131.6"/><use href="#aM" x="429.2" y="132.5"/><use href="#aD" x="435.8" y="133.1"/><use href="#aD" x="442.4" y="133.1"/><use href="#aM" x="449.1" y="132.5"/><use href="#aM" x="455.7" y="131.6"/><use href="#aM" x="462.3" y="130.5"/><use href="#aB" x="468.9" y="129.7"/><use href="#aB" x="475.5" y="129.4"/><use href="#aB" x="482.2" y="129.7"/><use href="#aG" x="332.0" y="136.2"/><use href="#aG" x="338.6" y="136.5"/><use href="#as" x="345.2" y="137.5"/><use href="#as" x="351.9" y="138.7"/><use href="#as" x="358.5" y="139.8"/><use href="#aL" x="365.1" y="140.5"/><use href="#aL" x="371.7" y="140.5"/><use href="#as" x="378.3" y="139.8"/><use href="#as" x="385.0" y="138.7"/><use href="#as" x="391.6" y="137.5"/><use href="#aG" x="398.2" y="136.5"/><use href="#aG" x="404.8" y="136.2"/><use href="#aG" x="411.4" y="136.5"/><use href="#as" x="418.1" y="137.5"/><use href="#as" x="424.7" y="138.7"/><use href="#as" x="431.3" y="139.8"/><use href="#aL" x="437.9" y="140.5"/><use href="#aL" x="444.5" y="140.5"/><use href="#as" x="451.2" y="139.8"/><use href="#as" x="457.8" y="138.7"/><use href="#as" x="464.4" y="137.5"/><use href="#aG" x="471.0" y="136.5"/><use href="#aG" x="477.6" y="136.2"/><use href="#aG" x="484.3" y="136.5"/><use href="#aG" x="337.9" y="147.2"/><use href="#aG" x="344.8" y="147.2"/><use href="#aG" x="351.8" y="147.2"/><use href="#aG" x="358.7" y="147.2"/><use href="#aG" x="365.7" y="147.2"/><use href="#aG" x="372.6" y="147.2"/><use href="#aG" x="379.5" y="147.2"/><use href="#aG" x="386.5" y="147.2"/><use href="#aG" x="393.4" y="147.2"/><use href="#aG" x="400.4" y="147.2"/><use href="#aG" x="407.3" y="147.2"/><use href="#aG" x="414.2" y="147.2"/><use href="#aG" x="421.2" y="147.2"/><use href="#aG" x="428.1" y="147.2"/><use href="#aG" x="435.1" y="147.2"/><use href="#aG" x="442.0" y="147.2"/><use href="#aG" x="448.9" y="147.2"/><use href="#aG" x="455.9" y="147.2"/><use href="#aG" x="462.8" y="147.2"/><use href="#aG" x="469.8" y="147.2"/><use href="#aG" x="476.7" y="147.2"/><use href="#aG" x="483.6" y="147.2"/><use href="#aG" x="490.6" y="147.2"/><use href="#aB" x="339.6" y="153.3"/><use href="#aB" x="346.6" y="153.3"/><use href="#aB" x="353.5" y="153.3"/><use href="#aB" x="360.5" y="153.3"/><use href="#aB" x="367.4" y="153.3"/><use href="#aB" x="374.3" y="153.3"/><use href="#aB" x="381.3" y="153.3"/><use href="#aB" x="388.2" y="153.3"/><use href="#aB" x="395.2" y="153.3"/><use href="#aB" x="402.1" y="153.3"/><use href="#aB" x="409.0" y="153.3"/><use href="#aB" x="416.0" y="153.3"/><use href="#aB" x="422.9" y="153.3"/><use href="#aB" x="429.9" y="153.3"/><use href="#aB" x="436.8" y="153.3"/><use href="#aB" x="443.7" y="153.3"/><use href="#aB" x="450.7" y="153.3"/><use href="#aB" x="457.6" y="153.3"/><use href="#aB" x="464.6" y="153.3"/><use href="#aB" x="471.5" y="153.3"/><use href="#aB" x="478.4" y="153.3"/><use href="#aB" x="485.4" y="153.3"/><use href="#aB" x="492.3" y="153.3"/><use href="#aG" x="341.6" y="160.1"/><use href="#aG" x="348.5" y="160.1"/><use href="#aG" x="355.4" y="160.1"/><use href="#aG" x="362.4" y="160.1"/><use href="#aG" x="369.3" y="160.1"/><use href="#aG" x="376.3" y="160.1"/><use href="#aG" x="383.2" y="160.1"/><use href="#aG" x="390.1" y="160.1"/><use href="#aG" x="397.1" y="160.1"/><use href="#aG" x="404.0" y="160.1"/><use href="#aG" x="411.0" y="160.1"/><use href="#aG" x="417.9" y="160.1"/><use href="#aG" x="424.8" y="160.1"/><use href="#aG" x="431.8" y="160.1"/><use href="#aG" x="438.7" y="160.1"/><use href="#aG" x="445.7" y="160.1"/><use href="#aG" x="452.6" y="160.1"/><use href="#aG" x="459.5" y="160.1"/><use href="#aG" x="466.5" y="160.1"/><use href="#aG" x="473.4" y="160.1"/><use href="#aG" x="480.4" y="160.1"/><use href="#aG" x="487.3" y="160.1"/><use href="#aG" x="494.2" y="160.1"/><use href="#aB" x="343.5" y="166.9"/><use href="#aB" x="350.4" y="166.9"/><use href="#aB" x="357.4" y="166.9"/><use href="#aB" x="364.3" y="166.9"/><use href="#aB" x="371.3" y="166.9"/><use href="#aB" x="378.2" y="166.9"/><use href="#aB" x="385.1" y="166.9"/><use href="#aB" x="392.1" y="166.9"/><use href="#aB" x="399.0" y="166.9"/><use href="#aB" x="406.0" y="166.9"/><use href="#aB" x="412.9" y="166.9"/><use href="#aB" x="419.8" y="166.9"/><use href="#aB" x="426.8" y="166.9"/><use href="#aB" x="433.7" y="166.9"/><use href="#aB" x="440.7" y="166.9"/><use href="#aB" x="447.6" y="166.9"/><use href="#aB" x="454.5" y="166.9"/><use href="#aB" x="461.5" y="166.9"/><use href="#aB" x="468.4" y="166.9"/><use href="#aB" x="475.4" y="166.9"/><use href="#aB" x="482.3" y="166.9"/><use href="#aB" x="489.2" y="166.9"/><use href="#aB" x="496.2" y="166.9"/><use href="#aG" x="345.3" y="173.1"/><use href="#aG" x="352.2" y="173.1"/><use href="#aG" x="359.1" y="173.1"/><use href="#aG" x="366.1" y="173.1"/><use href="#aG" x="373.0" y="173.1"/><use href="#aG" x="380.0" y="173.1"/><use href="#aG" x="386.9" y="173.1"/><use href="#aG" x="393.8" y="173.1"/><use href="#aG" x="400.8" y="173.1"/><use href="#aG" x="407.7" y="173.1"/><use href="#aG" x="414.7" y="173.1"/><use href="#aG" x="421.6" y="173.1"/><use href="#aG" x="428.5" y="173.1"/><use href="#aG" x="435.5" y="173.1"/><use href="#aG" x="442.4" y="173.1"/><use href="#aG" x="449.4" y="173.1"/><use href="#aG" x="456.3" y="173.1"/><use href="#aG" x="463.2" y="173.1"/><use href="#aG" x="470.2" y="173.1"/><use href="#aG" x="477.1" y="173.1"/><use href="#aG" x="484.1" y="173.1"/><use href="#aG" x="491.0" y="173.1"/><use href="#aG" x="497.9" y="173.1"/><use href="#aG" x="349.3" y="182.7"/><use href="#aG" x="356.2" y="182.7"/><use href="#aG" x="363.2" y="182.7"/><use href="#aG" x="370.1" y="182.7"/><use href="#aG" x="377.1" y="182.7"/><use href="#aG" x="384.0" y="182.7"/><use href="#aG" x="390.9" y="182.7"/><use href="#aG" x="397.9" y="182.7"/><use href="#aG" x="404.8" y="182.7"/><use href="#aG" x="411.8" y="182.7"/><use href="#aG" x="418.7" y="181.9"/><use href="#as" x="425.6" y="181.0"/><use href="#as" x="432.6" y="180.5"/><use href="#aM" x="439.5" y="180.0"/><use href="#aM" x="446.5" y="179.5"/><use href="#aM" x="453.4" y="179.0"/><use href="#aL" x="460.3" y="178.5"/><use href="#aL" x="467.3" y="178.5"/><use href="#aL" x="474.2" y="178.5"/><use href="#aL" x="481.2" y="178.5"/><use href="#aL" x="488.1" y="178.5"/><use href="#aL" x="495.0" y="178.5"/><use href="#aL" x="502.0" y="178.5"/><use href="#aB" x="351.5" y="189.5"/><use href="#aB" x="358.4" y="189.5"/><use href="#aB" x="365.4" y="189.5"/><use href="#aB" x="372.3" y="189.5"/><use href="#aB" x="379.3" y="189.5"/><use href="#aB" x="386.2" y="189.5"/><use href="#aB" x="393.1" y="189.5"/><use href="#aB" x="400.1" y="189.5"/><use href="#aB" x="407.0" y="189.5"/><use href="#aB" x="414.0" y="189.5"/><use href="#aB" x="420.9" y="188.7"/><use href="#aM" x="427.8" y="187.7"/><use href="#aM" x="434.8" y="187.1"/><use href="#as" x="441.7" y="186.5"/><use href="#as" x="448.7" y="185.9"/><use href="#as" x="455.6" y="185.3"/><use href="#aD" x="462.5" y="184.7"/><use href="#aD" x="469.5" y="184.7"/><use href="#aD" x="476.4" y="184.7"/><use href="#aD" x="483.4" y="184.7"/><use href="#aD" x="490.3" y="184.7"/><use href="#aD" x="497.2" y="184.7"/><use href="#aD" x="504.2" y="184.7"/><use href="#aG" x="352.0" y="195.6"/><use href="#aG" x="358.9" y="195.6"/><use href="#aG" x="365.9" y="195.6"/><use href="#aG" x="372.8" y="195.6"/><use href="#aG" x="379.7" y="195.6"/><use href="#aG" x="386.7" y="195.6"/><use href="#aG" x="393.6" y="195.6"/><use href="#aG" x="400.6" y="195.6"/><use href="#aG" x="407.5" y="195.6"/><use href="#aG" x="414.4" y="195.6"/><use href="#aG" x="421.4" y="195.6"/><use href="#aG" x="428.3" y="195.6"/><use href="#aG" x="435.3" y="195.6"/><use href="#aG" x="442.2" y="195.6"/><use href="#aG" x="449.1" y="195.6"/><use href="#aG" x="456.1" y="195.6"/><use href="#aG" x="463.0" y="195.6"/><use href="#aG" x="470.0" y="195.6"/><use href="#aG" x="476.9" y="195.6"/><use href="#aG" x="483.8" y="195.6"/><use href="#aG" x="490.8" y="195.6"/><use href="#aG" x="497.7" y="195.6"/><use href="#aG" x="504.7" y="195.6"/><use href="#aB" x="353.9" y="202.4"/><use href="#aB" x="360.9" y="202.4"/><use href="#aB" x="367.8" y="202.4"/><use href="#aB" x="374.7" y="202.4"/><use href="#aB" x="381.7" y="202.4"/><use href="#aB" x="388.6" y="202.4"/><use href="#aB" x="395.6" y="202.4"/><use href="#aB" x="402.5" y="202.4"/><use href="#aB" x="409.4" y="202.4"/><use href="#aB" x="416.4" y="202.4"/><use href="#aB" x="423.3" y="202.4"/><use href="#aB" x="430.3" y="202.4"/><use href="#aB" x="437.2" y="202.4"/><use href="#aB" x="444.1" y="202.4"/><use href="#aB" x="451.1" y="202.4"/><use href="#aB" x="458.0" y="202.4"/><use href="#aB" x="465.0" y="202.4"/><use href="#aB" x="471.9" y="202.4"/><use href="#aB" x="478.8" y="202.4"/><use href="#aB" x="485.8" y="202.4"/><use href="#aB" x="492.7" y="202.4"/><use href="#aB" x="499.7" y="202.4"/><use href="#aB" x="506.6" y="202.4"/><use href="#aG" x="355.7" y="208.6"/><use href="#aG" x="362.6" y="208.6"/><use href="#aG" x="369.6" y="208.6"/><use href="#aG" x="376.5" y="208.6"/><use href="#aG" x="383.4" y="208.6"/><use href="#aG" x="390.4" y="208.6"/><use href="#aG" x="397.3" y="208.6"/><use href="#aG" x="404.3" y="208.6"/><use href="#aG" x="411.2" y="208.6"/><use href="#aG" x="418.1" y="208.6"/><use href="#aG" x="425.1" y="208.6"/><use href="#aG" x="432.0" y="208.6"/><use href="#aG" x="439.0" y="208.6"/><use href="#aG" x="445.9" y="208.6"/><use href="#aG" x="452.8" y="208.6"/><use href="#aG" x="459.8" y="208.6"/><use href="#aG" x="466.7" y="208.6"/><use href="#aG" x="473.7" y="208.6"/><use href="#aG" x="480.6" y="208.6"/><use href="#aG" x="487.5" y="208.6"/><use href="#aG" x="494.5" y="208.6"/><use href="#aG" x="501.4" y="208.6"/><use href="#aG" x="508.4" y="208.6"/><use href="#aG" x="358.6" y="218.6"/><use href="#aG" x="365.5" y="218.6"/><use href="#aG" x="372.5" y="217.8"/><use href="#as" x="379.4" y="217.0"/><use href="#as" x="386.4" y="216.5"/><use href="#aM" x="393.3" y="216.1"/><use href="#aM" x="400.2" y="215.6"/><use href="#aM" x="407.2" y="215.2"/><use href="#aL" x="414.1" y="214.7"/><use href="#aL" x="421.1" y="214.7"/><use href="#aL" x="428.0" y="214.7"/><use href="#aL" x="434.9" y="214.7"/><use href="#aL" x="441.9" y="214.7"/><use href="#aL" x="448.8" y="214.7"/><use href="#aL" x="455.8" y="214.7"/><use href="#aL" x="462.7" y="214.7"/><use href="#aL" x="469.6" y="214.7"/><use href="#aL" x="476.6" y="214.7"/><use href="#aL" x="483.5" y="214.7"/><use href="#aL" x="490.5" y="214.7"/><use href="#aL" x="497.4" y="214.7"/><use href="#aL" x="504.3" y="214.7"/><use href="#aL" x="511.3" y="214.7"/><use href="#aB" x="360.8" y="225.1"/><use href="#aB" x="367.7" y="225.1"/><use href="#aB" x="374.7" y="224.3"/><use href="#aM" x="381.6" y="223.4"/><use href="#aM" x="388.6" y="222.9"/><use href="#as" x="395.5" y="222.5"/><use href="#as" x="402.4" y="222.0"/><use href="#as" x="409.4" y="221.5"/><use href="#aD" x="416.3" y="221.0"/><use href="#aD" x="423.3" y="221.0"/><use href="#aD" x="430.2" y="221.0"/><use href="#aD" x="437.1" y="221.0"/><use href="#aD" x="444.1" y="221.0"/><use href="#aD" x="451.0" y="221.0"/><use href="#aD" x="458.0" y="221.0"/><use href="#aD" x="464.9" y="221.0"/><use href="#aD" x="471.8" y="221.0"/><use href="#aD" x="478.8" y="221.0"/><use href="#aD" x="485.7" y="221.0"/><use href="#aD" x="492.7" y="221.0"/><use href="#aD" x="499.6" y="221.0"/><use href="#aD" x="506.5" y="221.0"/><use href="#aD" x="513.5" y="221.0"/><use href="#aG" x="362.7" y="231.2"/><use href="#aG" x="369.6" y="231.2"/><use href="#aG" x="376.6" y="230.7"/><use href="#aG" x="383.5" y="230.1"/><use href="#aG" x="390.5" y="229.6"/><use href="#aG" x="397.4" y="229.1"/><use href="#aG" x="404.3" y="228.6"/><use href="#aG" x="411.3" y="228.1"/><use href="#aG" x="418.2" y="227.5"/><use href="#aG" x="425.2" y="227.0"/><use href="#aG" x="432.1" y="227.0"/><use href="#aG" x="439.0" y="227.0"/><use href="#aG" x="446.0" y="227.0"/><use href="#aG" x="452.9" y="227.0"/><use href="#aG" x="459.9" y="227.0"/><use href="#aG" x="466.8" y="227.0"/><use href="#aG" x="473.7" y="227.0"/><use href="#aG" x="480.7" y="227.0"/><use href="#aG" x="487.6" y="227.0"/><use href="#aG" x="494.6" y="227.0"/><use href="#aG" x="501.5" y="227.0"/><use href="#aG" x="508.4" y="227.0"/><use href="#aG" x="515.4" y="227.0"/><use href="#aB" x="364.9" y="238.3"/><use href="#aB" x="371.8" y="238.3"/><use href="#aB" x="378.8" y="237.8"/><use href="#aB" x="385.7" y="237.2"/><use href="#aB" x="392.7" y="236.7"/><use href="#aB" x="399.6" y="236.2"/><use href="#aB" x="406.5" y="235.6"/><use href="#aB" x="413.5" y="235.1"/><use href="#aB" x="420.4" y="234.5"/><use href="#aB" x="427.4" y="234.0"/><use href="#aB" x="434.3" y="234.0"/><use href="#aB" x="441.2" y="234.0"/><use href="#aB" x="448.2" y="234.0"/><use href="#aB" x="455.1" y="234.0"/><use href="#aB" x="462.1" y="234.0"/><use href="#aB" x="469.0" y="234.0"/><use href="#aB" x="475.9" y="234.0"/><use href="#aB" x="482.9" y="234.0"/><use href="#aB" x="489.8" y="234.0"/><use href="#aB" x="496.8" y="234.0"/><use href="#aB" x="503.7" y="234.0"/><use href="#aB" x="510.6" y="234.0"/><use href="#aB" x="517.6" y="234.0"/><use href="#aG" x="366.8" y="244.3"/><use href="#aG" x="373.7" y="244.3"/><use href="#aG" x="380.7" y="243.9"/><use href="#aG" x="387.6" y="243.5"/><use href="#aG" x="394.6" y="243.1"/><use href="#aG" x="401.5" y="242.8"/><use href="#aG" x="408.4" y="242.4"/><use href="#aG" x="415.4" y="242.0"/><use href="#aG" x="422.3" y="241.6"/><use href="#aG" x="429.3" y="241.2"/><use href="#aG" x="436.2" y="241.2"/><use href="#aG" x="443.1" y="241.2"/><use href="#aG" x="450.1" y="241.2"/><use href="#aG" x="457.0" y="241.2"/><use href="#aG" x="464.0" y="241.2"/><use href="#aG" x="470.9" y="241.2"/><use href="#aG" x="477.8" y="241.2"/><use href="#aG" x="484.8" y="241.2"/><use href="#aG" x="491.7" y="241.2"/><use href="#aG" x="498.7" y="241.2"/><use href="#aG" x="505.6" y="241.2"/><use href="#aG" x="512.5" y="241.2"/><use href="#aG" x="519.5" y="241.2"/></g>
<g filter="url(#sh)"><use href="#aP" x="549.8" y="37.6"/><use href="#aP" x="556.7" y="37.6"/><use href="#aP" x="563.7" y="37.6"/><use href="#aP" x="570.6" y="37.6"/><use href="#aP" x="577.6" y="37.6"/><use href="#aP" x="584.5" y="37.6"/><use href="#aP" x="591.4" y="37.6"/><use href="#aP" x="598.4" y="37.6"/><use href="#aP" x="605.3" y="37.6"/><use href="#aP" x="612.3" y="37.6"/><use href="#aP" x="619.2" y="37.6"/><use href="#aP" x="626.1" y="37.6"/><use href="#aP" x="633.1" y="37.6"/><use href="#aP" x="640.0" y="37.6"/><use href="#aP" x="647.0" y="37.6"/><use href="#aP" x="653.9" y="37.6"/><use href="#aP" x="660.8" y="37.6"/><use href="#aP" x="667.8" y="37.6"/><use href="#aP" x="674.7" y="37.6"/><use href="#aP" x="681.7" y="37.6"/><use href="#aP" x="688.6" y="37.6"/><use href="#aP" x="695.5" y="37.6"/><use href="#aP" x="702.5" y="37.6"/><use href="#aB" x="551.4" y="43.7"/><use href="#aB" x="558.3" y="43.7"/><use href="#aB" x="565.3" y="43.7"/><use href="#aB" x="572.2" y="43.7"/><use href="#aB" x="579.2" y="43.7"/><use href="#aB" x="586.1" y="43.7"/><use href="#aB" x="593.0" y="43.7"/><use href="#aB" x="600.0" y="43.7"/><use href="#aB" x="606.9" y="43.7"/><use href="#aB" x="613.9" y="43.7"/><use href="#aB" x="620.8" y="43.7"/><use href="#aB" x="627.7" y="43.7"/><use href="#aB" x="634.7" y="43.7"/><use href="#aB" x="641.6" y="43.7"/><use href="#aB" x="648.6" y="43.7"/><use href="#aB" x="655.5" y="43.7"/><use href="#aB" x="662.4" y="43.7"/><use href="#aB" x="669.4" y="43.7"/><use href="#aB" x="676.3" y="43.7"/><use href="#aB" x="683.3" y="43.7"/><use href="#aB" x="690.2" y="43.7"/><use href="#aB" x="697.1" y="43.7"/><use href="#aB" x="704.1" y="43.7"/><use href="#aP" x="553.5" y="50.5"/><use href="#aP" x="560.4" y="50.5"/><use href="#aP" x="567.4" y="50.5"/><use href="#aP" x="574.3" y="50.5"/><use href="#aP" x="581.3" y="50.5"/><use href="#aP" x="588.2" y="50.5"/><use href="#aP" x="595.1" y="50.5"/><use href="#aP" x="602.1" y="50.5"/><use href="#aP" x="609.0" y="50.5"/><use href="#aP" x="616.0" y="50.5"/><use href="#aP" x="622.9" y="50.5"/><use href="#aP" x="629.8" y="50.5"/><use href="#aP" x="636.8" y="50.5"/><use href="#aP" x="643.7" y="50.5"/><use href="#aP" x="650.7" y="50.5"/><use href="#aP" x="657.6" y="50.5"/><use href="#aP" x="664.5" y="50.5"/><use href="#aP" x="671.5" y="50.5"/><use href="#aP" x="678.4" y="50.5"/><use href="#aP" x="685.4" y="50.5"/><use href="#aP" x="692.3" y="50.5"/><use href="#aP" x="699.2" y="50.5"/><use href="#aP" x="706.2" y="50.5"/><use href="#aB" x="555.0" y="57.3"/><use href="#aB" x="561.9" y="57.3"/><use href="#aB" x="568.9" y="57.3"/><use href="#aB" x="575.8" y="57.3"/><use href="#aB" x="582.8" y="57.3"/><use href="#aB" x="589.7" y="57.3"/><use href="#aB" x="596.6" y="57.3"/><use href="#aB" x="603.6" y="57.3"/><use href="#aB" x="610.5" y="57.3"/><use href="#aB" x="617.5" y="57.3"/><use href="#aB" x="624.4" y="57.3"/><use href="#aB" x="631.3" y="57.3"/><use href="#aB" x="638.3" y="57.3"/><use href="#aB" x="645.2" y="57.3"/><use href="#aB" x="652.2" y="57.3"/><use href="#aB" x="659.1" y="57.3"/><use href="#aB" x="666.0" y="57.3"/><use href="#aB" x="673.0" y="57.3"/><use href="#aB" x="679.9" y="57.3"/><use href="#aB" x="686.9" y="57.3"/><use href="#aB" x="693.8" y="57.3"/><use href="#aB" x="700.7" y="57.3"/><use href="#aB" x="707.7" y="57.3"/><use href="#aP" x="557.1" y="63.5"/><use href="#aP" x="564.0" y="63.5"/><use href="#aP" x="571.0" y="63.5"/><use href="#aP" x="577.9" y="63.5"/><use href="#aP" x="584.9" y="63.5"/><use href="#aP" x="591.8" y="63.5"/><use href="#aP" x="598.7" y="63.5"/><use href="#aP" x="605.7" y="63.5"/><use href="#aP" x="612.6" y="63.5"/><use href="#aP" x="619.6" y="63.5"/><use href="#aP" x="626.5" y="63.5"/><use href="#aP" x="633.4" y="63.5"/><use href="#aP" x="640.4" y="63.5"/><use href="#aP" x="647.3" y="63.5"/><use href="#aP" x="654.3" y="63.5"/><use href="#aP" x="661.2" y="63.5"/><use href="#aP" x="668.1" y="63.5"/><use href="#aP" x="675.1" y="63.5"/><use href="#aP" x="682.0" y="63.5"/><use href="#aP" x="689.0" y="63.5"/><use href="#aP" x="695.9" y="63.5"/><use href="#aP" x="702.8" y="63.5"/><use href="#aP" x="709.8" y="63.5"/><use href="#aP" x="559.9" y="74.2"/><use href="#aP" x="566.8" y="74.2"/><use href="#aP" x="573.8" y="74.2"/><use href="#aP" x="580.7" y="74.2"/><use href="#aP" x="587.7" y="74.2"/><use href="#aP" x="594.6" y="74.2"/><use href="#aP" x="601.5" y="74.2"/><use href="#aP" x="608.5" y="74.2"/><use href="#aP" x="615.4" y="74.2"/><use href="#aP" x="622.4" y="74.2"/><use href="#aP" x="629.3" y="74.2"/><use href="#aP" x="636.2" y="74.2"/><use href="#aP" x="643.2" y="74.2"/><use href="#aP" x="650.1" y="74.2"/><use href="#aP" x="657.1" y="74.2"/><use href="#aP" x="664.0" y="74.2"/><use href="#aP" x="670.9" y="74.2"/><use href="#aP" x="677.9" y="74.2"/><use href="#aP" x="684.8" y="74.2"/><use href="#aP" x="691.8" y="74.2"/><use href="#aP" x="698.7" y="74.2"/><use href="#aP" x="705.6" y="74.2"/><use href="#aP" x="712.6" y="74.2"/><use href="#aB" x="561.5" y="80.3"/><use href="#aB" x="568.4" y="80.3"/><use href="#aB" x="575.4" y="80.3"/><use href="#aB" x="582.3" y="80.3"/><use href="#aB" x="589.3" y="80.3"/><use href="#aB" x="596.2" y="80.3"/><use href="#aB" x="603.1" y="80.3"/><use href="#aB" x="610.1" y="80.3"/><use href="#aB" x="617.0" y="80.3"/><use href="#aB" x="624.0" y="80.3"/><use href="#aB" x="630.9" y="80.3"/><use href="#aB" x="637.8" y="80.3"/><use href="#aB" x="644.8" y="80.3"/><use href="#aB" x="651.7" y="80.3"/><use href="#aB" x="658.7" y="80.3"/><use href="#aB" x="665.6" y="80.3"/><use href="#aB" x="672.5" y="80.3"/><use href="#aB" x="679.5" y="80.3"/><use href="#aB" x="686.4" y="80.3"/><use href="#aB" x="693.4" y="80.3"/><use href="#aB" x="700.3" y="80.3"/><use href="#aB" x="707.2" y="80.3"/><use href="#aB" x="714.2" y="80.3"/><use href="#aP" x="563.6" y="87.1"/><use href="#aP" x="570.5" y="87.1"/><use href="#aP" x="577.5" y="87.1"/><use href="#aP" x="584.4" y="87.1"/><use href="#aP" x="591.4" y="87.1"/><use href="#aP" x="598.3" y="87.1"/><use href="#aP" x="605.2" y="87.1"/><use href="#aP" x="612.2" y="87.1"/><use href="#aP" x="619.1" y="87.1"/><use href="#aP" x="626.1" y="87.1"/><use href="#aP" x="633.0" y="87.1"/><use href="#aP" x="639.9" y="87.1"/><use href="#aP" x="646.9" y="87.1"/><use href="#aP" x="653.8" y="87.1"/><use href="#aP" x="660.8" y="87.1"/><use href="#aP" x="667.7" y="87.1"/><use href="#aP" x="674.6" y="87.1"/><use href="#aP" x="681.6" y="87.1"/><use href="#aP" x="688.5" y="87.1"/><use href="#aP" x="695.5" y="87.1"/><use href="#aP" x="702.4" y="87.1"/><use href="#aP" x="709.3" y="87.1"/><use href="#aP" x="716.3" y="87.1"/><use href="#aB" x="565.1" y="93.9"/><use href="#aB" x="572.0" y="93.9"/><use href="#aB" x="579.0" y="93.9"/><use href="#aB" x="585.9" y="93.9"/><use href="#aB" x="592.9" y="93.9"/><use href="#aB" x="599.8" y="93.9"/><use href="#aB" x="606.7" y="93.9"/><use href="#aB" x="613.7" y="93.9"/><use href="#aB" x="620.6" y="93.9"/><use href="#aB" x="627.6" y="93.9"/><use href="#aB" x="634.5" y="93.9"/><use href="#aB" x="641.4" y="93.9"/><use href="#aB" x="648.4" y="93.9"/><use href="#aB" x="655.3" y="93.9"/><use href="#aB" x="662.3" y="93.9"/><use href="#aB" x="669.2" y="93.9"/><use href="#aB" x="676.1" y="93.9"/><use href="#aB" x="683.1" y="93.9"/><use href="#aB" x="690.0" y="93.9"/><use href="#aB" x="697.0" y="93.9"/><use href="#aB" x="703.9" y="93.9"/><use href="#aB" x="710.8" y="93.9"/><use href="#aB" x="717.8" y="93.9"/><use href="#aP" x="567.2" y="100.2"/><use href="#aP" x="574.1" y="100.2"/><use href="#aP" x="581.1" y="100.2"/><use href="#aP" x="588.0" y="100.2"/><use href="#aP" x="595.0" y="100.2"/><use href="#aP" x="601.9" y="100.2"/><use href="#aP" x="608.8" y="100.2"/><use href="#aP" x="615.8" y="100.2"/><use href="#aP" x="622.7" y="100.2"/><use href="#aP" x="629.7" y="100.2"/><use href="#aP" x="636.6" y="100.2"/><use href="#aP" x="643.5" y="100.2"/><use href="#aP" x="650.5" y="100.2"/><use href="#aP" x="657.4" y="100.2"/><use href="#aP" x="664.4" y="100.2"/><use href="#aP" x="671.3" y="100.2"/><use href="#aP" x="678.2" y="100.2"/><use href="#aP" x="685.2" y="100.2"/><use href="#aP" x="692.1" y="100.2"/><use href="#aP" x="699.1" y="100.2"/><use href="#aP" x="706.0" y="100.2"/><use href="#aP" x="712.9" y="100.2"/><use href="#aP" x="719.9" y="100.2"/><use href="#aP" x="569.5" y="109.8"/><use href="#aP" x="576.4" y="109.8"/><use href="#aP" x="583.4" y="109.8"/><use href="#aP" x="590.3" y="109.8"/><use href="#aP" x="597.3" y="109.8"/><use href="#aP" x="604.2" y="109.8"/><use href="#aP" x="611.1" y="109.8"/><use href="#aP" x="618.1" y="109.8"/><use href="#aP" x="625.0" y="109.8"/><use href="#aP" x="632.0" y="109.8"/><use href="#aP" x="638.9" y="109.8"/><use href="#aP" x="645.8" y="109.8"/><use href="#aP" x="652.8" y="109.8"/><use href="#aP" x="659.7" y="109.8"/><use href="#aP" x="666.7" y="109.8"/><use href="#aP" x="673.6" y="109.8"/><use href="#aP" x="680.5" y="109.8"/><use href="#aP" x="687.5" y="109.8"/><use href="#aP" x="694.4" y="109.8"/><use href="#aP" x="701.4" y="109.8"/><use href="#aP" x="708.3" y="109.8"/><use href="#aP" x="715.2" y="109.8"/><use href="#aP" x="722.2" y="109.8"/><use href="#aB" x="571.1" y="115.9"/><use href="#aB" x="578.0" y="115.9"/><use href="#aB" x="585.0" y="115.9"/><use href="#aB" x="591.9" y="115.9"/><use href="#aB" x="598.9" y="115.9"/><use href="#aB" x="605.8" y="115.9"/><use href="#aB" x="612.7" y="115.9"/><use href="#aB" x="619.7" y="115.9"/><use href="#aB" x="626.6" y="115.9"/><use href="#aB" x="633.6" y="115.9"/><use href="#aB" x="640.5" y="115.9"/><use href="#aB" x="647.4" y="115.9"/><use href="#aB" x="654.4" y="115.9"/><use href="#aB" x="661.3" y="115.9"/><use href="#aB" x="668.3" y="115.9"/><use href="#aB" x="675.2" y="115.9"/><use href="#aB" x="682.1" y="115.9"/><use href="#aB" x="689.1" y="115.9"/><use href="#aB" x="696.0" y="115.9"/><use href="#aB" x="703.0" y="115.9"/><use href="#aB" x="709.9" y="115.9"/><use href="#aB" x="716.8" y="115.9"/><use href="#aB" x="723.8" y="115.9"/><use href="#aP" x="573.2" y="122.7"/><use href="#aP" x="580.1" y="122.7"/><use href="#aP" x="587.1" y="122.7"/><use href="#aP" x="594.0" y="122.7"/><use href="#aP" x="601.0" y="122.7"/><use href="#aP" x="607.9" y="122.7"/><use href="#aP" x="614.8" y="122.7"/><use href="#aP" x="621.8" y="122.7"/><use href="#aP" x="628.7" y="122.7"/><use href="#aP" x="635.7" y="122.7"/><use href="#aP" x="642.6" y="122.7"/><use href="#aP" x="649.5" y="122.7"/><use href="#aP" x="656.5" y="122.7"/><use href="#aP" x="663.4" y="122.7"/><use href="#aP" x="670.4" y="122.7"/><use href="#aP" x="677.3" y="122.7"/><use href="#aP" x="684.2" y="122.7"/><use href="#aP" x="691.2" y="122.7"/><use href="#aP" x="698.1" y="122.7"/><use href="#aP" x="705.1" y="122.7"/><use href="#aP" x="712.0" y="122.7"/><use href="#aP" x="718.9" y="122.7"/><use href="#aP" x="725.9" y="122.7"/><use href="#aB" x="574.7" y="129.5"/><use href="#aB" x="581.6" y="129.5"/><use href="#aB" x="588.6" y="129.5"/><use href="#aB" x="595.5" y="129.5"/><use href="#aB" x="602.5" y="129.5"/><use href="#aB" x="609.4" y="129.5"/><use href="#aB" x="616.3" y="129.5"/><use href="#aB" x="623.3" y="129.5"/><use href="#aB" x="630.2" y="129.5"/><use href="#aB" x="637.2" y="129.5"/><use href="#aB" x="644.1" y="129.5"/><use href="#aB" x="651.0" y="129.5"/><use href="#aB" x="658.0" y="129.5"/><use href="#aB" x="664.9" y="129.5"/><use href="#aB" x="671.9" y="129.5"/><use href="#aB" x="678.8" y="129.5"/><use href="#aB" x="685.7" y="129.5"/><use href="#aB" x="692.7" y="129.5"/><use href="#aB" x="699.6" y="129.5"/><use href="#aB" x="706.6" y="129.5"/><use href="#aB" x="713.5" y="129.5"/><use href="#aB" x="720.4" y="129.5"/><use href="#aB" x="727.4" y="129.5"/><use href="#aP" x="576.8" y="135.8"/><use href="#aP" x="583.7" y="135.8"/><use href="#aP" x="590.7" y="135.8"/><use href="#aP" x="597.6" y="135.8"/><use href="#aP" x="604.6" y="135.8"/><use href="#aP" x="611.5" y="135.8"/><use href="#aP" x="618.4" y="135.8"/><use href="#aP" x="625.4" y="135.8"/><use href="#aP" x="632.3" y="135.8"/><use href="#aP" x="639.3" y="135.8"/><use href="#aP" x="646.2" y="135.8"/><use href="#aP" x="653.1" y="135.8"/><use href="#aP" x="660.1" y="135.8"/><use href="#aP" x="667.0" y="135.8"/><use href="#aP" x="674.0" y="135.8"/><use href="#aP" x="680.9" y="135.8"/><use href="#aP" x="687.8" y="135.8"/><use href="#aP" x="694.8" y="135.8"/><use href="#aP" x="701.7" y="135.8"/><use href="#aP" x="708.7" y="135.8"/><use href="#aP" x="715.6" y="135.8"/><use href="#aP" x="722.5" y="135.8"/><use href="#aP" x="729.5" y="135.8"/><use href="#aP" x="580.1" y="145.6"/><use href="#aP" x="587.0" y="145.6"/><use href="#aP" x="594.0" y="145.6"/><use href="#aP" x="600.9" y="145.6"/><use href="#aP" x="607.9" y="145.6"/><use href="#aP" x="614.8" y="145.6"/><use href="#aP" x="621.7" y="145.6"/><use href="#aP" x="628.7" y="145.6"/><use href="#aP" x="635.6" y="145.6"/><use href="#aP" x="642.6" y="145.6"/><use href="#aP" x="649.5" y="145.6"/><use href="#aP" x="656.4" y="145.6"/><use href="#aP" x="663.4" y="145.6"/><use href="#aP" x="670.3" y="145.6"/><use href="#aP" x="677.3" y="145.6"/><use href="#aP" x="684.2" y="145.6"/><use href="#aP" x="691.1" y="145.6"/><use href="#aP" x="698.1" y="145.6"/><use href="#aP" x="705.0" y="145.6"/><use href="#aP" x="712.0" y="145.6"/><use href="#aP" x="718.9" y="145.6"/><use href="#aP" x="725.8" y="145.6"/><use href="#aP" x="732.8" y="145.6"/><use href="#aB" x="581.7" y="151.7"/><use href="#aB" x="588.6" y="151.7"/><use href="#aB" x="595.6" y="151.7"/><use href="#aB" x="602.5" y="151.7"/><use href="#aB" x="609.5" y="151.7"/><use href="#aB" x="616.4" y="151.7"/><use href="#aB" x="623.3" y="151.7"/><use href="#aB" x="630.3" y="151.7"/><use href="#aB" x="637.2" y="151.7"/><use href="#aB" x="644.2" y="151.7"/><use href="#aB" x="651.1" y="151.7"/><use href="#aB" x="658.0" y="151.7"/><use href="#aB" x="665.0" y="151.7"/><use href="#aB" x="671.9" y="151.7"/><use href="#aB" x="678.9" y="151.7"/><use href="#aB" x="685.8" y="151.7"/><use href="#aB" x="692.7" y="151.7"/><use href="#aB" x="699.7" y="151.7"/><use href="#aB" x="706.6" y="151.7"/><use href="#aB" x="713.6" y="151.7"/><use href="#aB" x="720.5" y="151.7"/><use href="#aB" x="727.4" y="151.7"/><use href="#aB" x="734.4" y="151.7"/><use href="#aP" x="583.8" y="158.5"/><use href="#aP" x="590.7" y="158.5"/><use href="#aP" x="597.7" y="158.5"/><use href="#aP" x="604.6" y="158.5"/><use href="#aP" x="611.6" y="158.5"/><use href="#aP" x="618.5" y="158.5"/><use href="#aP" x="625.4" y="158.5"/><use href="#aP" x="632.4" y="158.5"/><use href="#aP" x="639.3" y="158.5"/><use href="#aP" x="646.3" y="158.5"/><use href="#aP" x="653.2" y="158.5"/><use href="#aP" x="660.1" y="158.5"/><use href="#aP" x="667.1" y="158.5"/><use href="#aP" x="674.0" y="158.5"/><use href="#aP" x="681.0" y="158.5"/><use href="#aP" x="687.9" y="158.5"/><use href="#aP" x="694.8" y="158.5"/><use href="#aP" x="701.8" y="158.5"/><use href="#aP" x="708.7" y="158.5"/><use href="#aP" x="715.7" y="158.5"/><use href="#aP" x="722.6" y="158.5"/><use href="#aP" x="729.5" y="158.5"/><use href="#aP" x="736.5" y="158.5"/><use href="#aB" x="585.3" y="165.3"/><use href="#aB" x="592.2" y="165.3"/><use href="#aB" x="599.2" y="165.3"/><use href="#aB" x="606.1" y="165.3"/><use href="#aB" x="613.1" y="165.3"/><use href="#aB" x="620.0" y="165.3"/><use href="#aB" x="626.9" y="165.3"/><use href="#aB" x="633.9" y="165.3"/><use href="#aB" x="640.8" y="165.3"/><use href="#aB" x="647.8" y="165.3"/><use href="#aB" x="654.7" y="165.3"/><use href="#aB" x="661.6" y="165.3"/><use href="#aB" x="668.6" y="165.3"/><use href="#aB" x="675.5" y="165.3"/><use href="#aB" x="682.5" y="165.3"/><use href="#aB" x="689.4" y="165.3"/><use href="#aB" x="696.3" y="165.3"/><use href="#aB" x="703.3" y="165.3"/><use href="#aB" x="710.2" y="165.3"/><use href="#aB" x="717.2" y="165.3"/><use href="#aB" x="724.1" y="165.3"/><use href="#aB" x="731.0" y="165.3"/><use href="#aB" x="738.0" y="165.3"/><use href="#aP" x="587.4" y="171.5"/><use href="#aP" x="594.3" y="171.5"/><use href="#aP" x="601.3" y="171.5"/><use href="#aP" x="608.2" y="171.5"/><use href="#aP" x="615.2" y="171.5"/><use href="#aP" x="622.1" y="171.5"/><use href="#aP" x="629.0" y="171.5"/><use href="#aP" x="636.0" y="171.5"/><use href="#aP" x="642.9" y="171.5"/><use href="#aP" x="649.9" y="171.5"/><use href="#aP" x="656.8" y="171.5"/><use href="#aP" x="663.7" y="171.5"/><use href="#aP" x="670.7" y="171.5"/><use href="#aP" x="677.6" y="171.5"/><use href="#aP" x="684.6" y="171.5"/><use href="#aP" x="691.5" y="171.5"/><use href="#aP" x="698.4" y="171.5"/><use href="#aP" x="705.4" y="171.5"/><use href="#aP" x="712.3" y="171.5"/><use href="#aP" x="719.3" y="171.5"/><use href="#aP" x="726.2" y="171.5"/><use href="#aP" x="733.1" y="171.5"/><use href="#aP" x="740.1" y="171.5"/><use href="#aP" x="591.2" y="180.2"/><use href="#aP" x="598.1" y="180.2"/><use href="#aP" x="605.1" y="180.2"/><use href="#aP" x="612.0" y="180.2"/><use href="#aP" x="619.0" y="180.2"/><use href="#aP" x="625.9" y="180.2"/><use href="#aP" x="632.8" y="180.2"/><use href="#aP" x="639.8" y="180.2"/><use href="#aP" x="646.7" y="180.2"/><use href="#aP" x="653.7" y="180.2"/><use href="#aP" x="660.6" y="180.2"/><use href="#aP" x="667.5" y="180.2"/><use href="#aP" x="674.5" y="180.2"/><use href="#aP" x="681.4" y="180.2"/><use href="#aP" x="688.4" y="180.2"/><use href="#aP" x="695.3" y="180.2"/><use href="#aP" x="702.2" y="180.2"/><use href="#aP" x="709.2" y="180.2"/><use href="#aP" x="716.1" y="180.2"/><use href="#aP" x="723.1" y="180.2"/><use href="#aP" x="730.0" y="180.2"/><use href="#aP" x="736.9" y="180.2"/><use href="#aP" x="743.9" y="180.2"/><use href="#aB" x="592.8" y="186.3"/><use href="#aB" x="599.7" y="186.3"/><use href="#aB" x="606.7" y="186.3"/><use href="#aB" x="613.6" y="186.3"/><use href="#aB" x="620.6" y="186.3"/><use href="#aB" x="627.5" y="186.3"/><use href="#aB" x="634.4" y="186.3"/><use href="#aB" x="641.4" y="186.3"/><use href="#aB" x="648.3" y="186.3"/><use href="#aB" x="655.3" y="186.3"/><use href="#aB" x="662.2" y="186.3"/><use href="#aB" x="669.1" y="186.3"/><use href="#aB" x="676.1" y="186.3"/><use href="#aB" x="683.0" y="186.3"/><use href="#aB" x="690.0" y="186.3"/><use href="#aB" x="696.9" y="186.3"/><use href="#aB" x="703.8" y="186.3"/><use href="#aB" x="710.8" y="186.3"/><use href="#aB" x="717.7" y="186.3"/><use href="#aB" x="724.7" y="186.3"/><use href="#aB" x="731.6" y="186.3"/><use href="#aB" x="738.5" y="186.3"/><use href="#aB" x="745.5" y="186.3"/><use href="#aP" x="594.9" y="193.1"/><use href="#aP" x="601.8" y="193.1"/><use href="#aP" x="608.8" y="193.1"/><use href="#aP" x="615.7" y="193.1"/><use href="#aP" x="622.7" y="193.1"/><use href="#aP" x="629.6" y="193.1"/><use href="#aP" x="636.5" y="193.1"/><use href="#aP" x="643.5" y="193.1"/><use href="#aP" x="650.4" y="193.1"/><use href="#aP" x="657.4" y="193.1"/><use href="#aP" x="664.3" y="193.1"/><use href="#aP" x="671.2" y="193.1"/><use href="#aP" x="678.2" y="193.1"/><use href="#aP" x="685.1" y="193.1"/><use href="#aP" x="692.1" y="193.1"/><use href="#aP" x="699.0" y="193.1"/><use href="#aP" x="705.9" y="193.1"/><use href="#aP" x="712.9" y="193.1"/><use href="#aP" x="719.8" y="193.1"/><use href="#aP" x="726.8" y="193.1"/><use href="#aP" x="733.7" y="193.1"/><use href="#aP" x="740.6" y="193.1"/><use href="#aP" x="747.6" y="193.1"/><use href="#aB" x="596.4" y="199.9"/><use href="#aB" x="603.3" y="199.9"/><use href="#aB" x="610.3" y="199.9"/><use href="#aB" x="617.2" y="199.9"/><use href="#aB" x="624.2" y="199.9"/><use href="#aB" x="631.1" y="199.9"/><use href="#aB" x="638.0" y="199.9"/><use href="#aB" x="645.0" y="199.9"/><use href="#aB" x="651.9" y="199.9"/><use href="#aB" x="658.9" y="199.9"/><use href="#aB" x="665.8" y="199.9"/><use href="#aB" x="672.7" y="199.9"/><use href="#aB" x="679.7" y="199.9"/><use href="#aB" x="686.6" y="199.9"/><use href="#aB" x="693.6" y="199.9"/><use href="#aB" x="700.5" y="199.9"/><use href="#aB" x="707.4" y="199.9"/><use href="#aB" x="714.4" y="199.9"/><use href="#aB" x="721.3" y="199.9"/><use href="#aB" x="728.3" y="199.9"/><use href="#aB" x="735.2" y="199.9"/><use href="#aB" x="742.1" y="199.9"/><use href="#aB" x="749.1" y="199.9"/><use href="#aP" x="598.5" y="206.1"/><use href="#aP" x="605.4" y="206.1"/><use href="#aP" x="612.4" y="206.1"/><use href="#aP" x="619.3" y="206.1"/><use href="#aP" x="626.3" y="206.1"/><use href="#aP" x="633.2" y="206.1"/><use href="#aP" x="640.1" y="206.1"/><use href="#aP" x="647.1" y="206.1"/><use href="#aP" x="654.0" y="206.1"/><use href="#aP" x="661.0" y="206.1"/><use href="#aP" x="667.9" y="206.1"/><use href="#aP" x="674.8" y="206.1"/><use href="#aP" x="681.8" y="206.1"/><use href="#aP" x="688.7" y="206.1"/><use href="#aP" x="695.7" y="206.1"/><use href="#aP" x="702.6" y="206.1"/><use href="#aP" x="709.5" y="206.1"/><use href="#aP" x="716.5" y="206.1"/><use href="#aP" x="723.4" y="206.1"/><use href="#aP" x="730.4" y="206.1"/><use href="#aP" x="737.3" y="206.1"/><use href="#aP" x="744.2" y="206.1"/><use href="#aP" x="751.2" y="206.1"/><use href="#aP" x="600.7" y="215.6"/><use href="#aP" x="607.6" y="215.6"/><use href="#aP" x="614.6" y="215.6"/><use href="#aP" x="621.5" y="215.6"/><use href="#aP" x="628.5" y="215.6"/><use href="#aP" x="635.4" y="215.6"/><use href="#aP" x="642.3" y="215.6"/><use href="#aP" x="649.3" y="215.6"/><use href="#aP" x="656.2" y="215.6"/><use href="#aP" x="663.2" y="215.6"/><use href="#aP" x="670.1" y="215.6"/><use href="#aP" x="677.0" y="215.6"/><use href="#aP" x="684.0" y="215.6"/><use href="#aP" x="690.9" y="215.6"/><use href="#aP" x="697.9" y="215.6"/><use href="#aP" x="704.8" y="215.6"/><use href="#aP" x="711.7" y="215.6"/><use href="#aP" x="718.7" y="215.6"/><use href="#aP" x="725.6" y="215.6"/><use href="#aP" x="732.6" y="215.6"/><use href="#aP" x="739.5" y="215.6"/><use href="#aP" x="746.4" y="215.6"/><use href="#aP" x="753.4" y="215.6"/><use href="#aB" x="602.3" y="221.7"/><use href="#aB" x="609.2" y="221.7"/><use href="#aB" x="616.2" y="221.7"/><use href="#aB" x="623.1" y="221.7"/><use href="#aB" x="630.1" y="221.7"/><use href="#aB" x="637.0" y="221.7"/><use href="#aB" x="643.9" y="221.7"/><use href="#aB" x="650.9" y="221.7"/><use href="#aB" x="657.8" y="221.7"/><use href="#aB" x="664.8" y="221.7"/><use href="#aB" x="671.7" y="221.7"/><use href="#aB" x="678.6" y="221.7"/><use href="#aB" x="685.6" y="221.7"/><use href="#aB" x="692.5" y="221.7"/><use href="#aB" x="699.5" y="221.7"/><use href="#aB" x="706.4" y="221.7"/><use href="#aB" x="713.3" y="221.7"/><use href="#aB" x="720.3" y="221.7"/><use href="#aB" x="727.2" y="221.7"/><use href="#aB" x="734.2" y="221.7"/><use href="#aB" x="741.1" y="221.7"/><use href="#aB" x="748.0" y="221.7"/><use href="#aB" x="755.0" y="221.7"/><use href="#aP" x="604.4" y="228.5"/><use href="#aP" x="611.3" y="228.5"/><use href="#aP" x="618.3" y="228.5"/><use href="#aP" x="625.2" y="228.5"/><use href="#aP" x="632.2" y="228.5"/><use href="#aP" x="639.1" y="228.5"/><use href="#aP" x="646.0" y="228.5"/><use href="#aP" x="653.0" y="228.5"/><use href="#aP" x="659.9" y="228.5"/><use href="#aP" x="666.9" y="228.5"/><use href="#aP" x="673.8" y="228.5"/><use href="#aP" x="680.7" y="228.5"/><use href="#aP" x="687.7" y="228.5"/><use href="#aP" x="694.6" y="228.5"/><use href="#aP" x="701.6" y="228.5"/><use href="#aP" x="708.5" y="228.5"/><use href="#aP" x="715.4" y="228.5"/><use href="#aP" x="722.4" y="228.5"/><use href="#aP" x="729.3" y="228.5"/><use href="#aP" x="736.3" y="228.5"/><use href="#aP" x="743.2" y="228.5"/><use href="#aP" x="750.1" y="228.5"/><use href="#aP" x="757.1" y="228.5"/><use href="#aB" x="605.9" y="235.3"/><use href="#aB" x="612.8" y="235.3"/><use href="#aB" x="619.8" y="235.3"/><use href="#aB" x="626.7" y="235.3"/><use href="#aB" x="633.7" y="235.3"/><use href="#aB" x="640.6" y="235.3"/><use href="#aB" x="647.5" y="235.3"/><use href="#aB" x="654.5" y="235.3"/><use href="#aB" x="661.4" y="235.3"/><use href="#aB" x="668.4" y="235.3"/><use href="#aB" x="675.3" y="235.3"/><use href="#aB" x="682.2" y="235.3"/><use href="#aB" x="689.2" y="235.3"/><use href="#aB" x="696.1" y="235.3"/><use href="#aB" x="703.1" y="235.3"/><use href="#aB" x="710.0" y="235.3"/><use href="#aB" x="716.9" y="235.3"/><use href="#aB" x="723.9" y="235.3"/><use href="#aB" x="730.8" y="235.3"/><use href="#aB" x="737.8" y="235.3"/><use href="#aB" x="744.7" y="235.3"/><use href="#aB" x="751.6" y="235.3"/><use href="#aB" x="758.6" y="235.3"/><use href="#aP" x="608.0" y="241.5"/><use href="#aP" x="614.9" y="241.5"/><use href="#aP" x="621.9" y="241.5"/><use href="#aP" x="628.8" y="241.5"/><use href="#aP" x="635.8" y="241.5"/><use href="#aP" x="642.7" y="241.5"/><use href="#aP" x="649.6" y="241.5"/><use href="#aP" x="656.6" y="241.5"/><use href="#aP" x="663.5" y="241.5"/><use href="#aP" x="670.5" y="241.5"/><use href="#aP" x="677.4" y="241.5"/><use href="#aP" x="684.3" y="241.5"/><use href="#aP" x="691.3" y="241.5"/><use href="#aP" x="698.2" y="241.5"/><use href="#aP" x="705.2" y="241.5"/><use href="#aP" x="712.1" y="241.5"/><use href="#aP" x="719.0" y="241.5"/><use href="#aP" x="726.0" y="241.5"/><use href="#aP" x="732.9" y="241.5"/><use href="#aP" x="739.9" y="241.5"/><use href="#aP" x="746.8" y="241.5"/><use href="#aP" x="753.7" y="241.5"/><use href="#aP" x="760.7" y="241.5"/></g>
<text transform="translate(34.92 27.70)" fill="#000"><tspan font-size="18.5" font-weight="bold">a</tspan></text>
<text transform="translate(35.46 306.60)" fill="#000"><tspan font-size="18.5" font-weight="bold">b</tspan></text>
<text transform="translate(113.80 27.90)" fill="#000"><tspan font-size="16.81" font-weight="bold">Sb</tspan><tspan font-size="11.21" font-weight="bold" dy="4.69">2</tspan><tspan font-size="16.81" font-weight="bold" dy="-4.69">Te</tspan><tspan font-size="11.21" font-weight="bold" dy="4.69">3</tspan></text>
<text transform="translate(371.00 28.50)" fill="#000"><tspan font-size="16.73" font-weight="bold">Bi</tspan><tspan font-size="11.15" font-weight="bold" dy="4.66">2</tspan><tspan font-size="16.73" font-weight="bold" dy="-4.66">Te</tspan><tspan font-size="11.15" font-weight="bold" dy="4.66">3</tspan></text>
<text transform="translate(607.70 28.90)" fill="#000"><tspan font-size="16.19" font-weight="bold">Bi</tspan><tspan font-size="10.8" font-weight="bold" dy="4.51">2</tspan><tspan font-size="16.19" font-weight="bold" dy="-4.51">Se</tspan><tspan font-size="10.8" font-weight="bold" dy="4.51">3</tspan></text>
<path d="M261.4,118.8 L266.4,109.2 L268.4,113.0 C279,106.5 296,108.5 308.4,118.0 C296,112.5 283,113.5 271.6,119.6 L273.0,122.4 Z" fill="#4f8a2e"/>
<path d="M545.5,114.6 L539.8,106.0 L539.0,109.2 C528,106.0 512,108.5 501.7,117.5 C512,112.5 524,112.0 535.6,116.0 L534.1,119.0 Z" fill="#e8919b"/>
<g filter="url(#sh2)"><use href="#aS" x="289.4" y="131.2" transform="translate(289.4 131.2) scale(1.28) translate(-289.4 -131.2)"/></g>
<g filter="url(#sh2)"><use href="#aP" x="526.3" y="131.2" transform="translate(526.3 131.2) scale(1.28) translate(-526.3 -131.2)"/></g>
<text transform="translate(260.94 159.40)" fill="#000"><tspan font-size="13.75" font-weight="bold">Sb-alloying</tspan></text>
<text transform="translate(501.47 159.10)" fill="#000"><tspan font-size="13.75" font-weight="bold">Se-alloying</tspan></text>
<g stroke="#4472c4" stroke-width="1.2" fill="none"><path d="M98.5,231 V271 H127"/></g>
<path d="M98.5,223.5 L94.1,231.8 H102.9 Z M134.7,271 L126.4,266.6 V275.4 Z" fill="#4472c4"/>
<text transform="translate(94.20 219.80)" fill="#000"><tspan font-size="11" font-weight="bold">c</tspan></text>
<text transform="translate(140.09 273.90)" fill="#000"><tspan font-size="11" font-weight="bold">a</tspan></text>
<g filter="url(#sh2)"><use href="#aS" transform="translate(328.4 271.6) scale(1.22)"/></g>
<text transform="translate(337.60 283.00)" fill="#000"><tspan font-size="16.3" font-weight="bold">Sb</tspan></text>
<g filter="url(#sh2)"><use href="#aB" transform="translate(369.6 271.6) scale(1.22)"/></g>
<text transform="translate(378.90 283.00)" fill="#000"><tspan font-size="16.3" font-weight="bold">Bi</tspan></text>
<g filter="url(#sh2)"><use href="#aG" transform="translate(407.0 271.8) scale(1.22)"/></g>
<text transform="translate(415.60 282.60)" fill="#000"><tspan font-size="16.3" font-weight="bold">Te</tspan></text>
<g filter="url(#sh2)"><use href="#aL" transform="translate(445.2 272.0) scale(1.22)"/></g>
<g filter="url(#sh2)"><use href="#aD" transform="translate(488.0 272.0) scale(1.22)"/></g>
<g filter="url(#sh2)"><use href="#aP" transform="translate(533.0 272.0) scale(1.22)"/></g>
<text transform="translate(545.00 283.00)" fill="#000"><tspan font-size="16.3" font-weight="bold">Se</tspan></text>
<text transform="translate(454.70 283.00)" fill="#000"><tspan font-size="16.3" font-weight="bold">Bi</tspan><tspan font-size="11" font-weight="bold" dy="4.60">Te</tspan></text>
<text transform="translate(496.60 283.00)" fill="#000"><tspan font-size="16.3" font-weight="bold">Te</tspan><tspan font-size="11" font-weight="bold" dy="4.60">Bi</tspan></text>
<path d="M93.1,314.5 L110,297.1 V301.1 H668.6 V296.6 L686.7,314.2 L668.6,331.8 V328.0 H110 V332.1 Z" fill="url(#ban)"/>
<text transform="translate(280.95 320.80)" fill="#222"><tspan font-size="13.4" font-weight="bold">p-type</tspan></text>
<text transform="translate(565.65 320.80)" fill="#222"><tspan font-size="13.4" font-weight="bold">n-type</tspan></text>
<rect x="176" y="348" width="256" height="240" fill="url(#pink)"/>
<line x1="112" x2="664" y1="540.5" y2="540.5" stroke="#787878" stroke-width="1" stroke-dasharray="4.5 1.5 2.5 1.5"/>
<line x1="112" x2="664" y1="492.5" y2="492.5" stroke="#787878" stroke-width="1" stroke-dasharray="4.5 1.5 2.5 1.5"/>
<line x1="112" x2="664" y1="443.5" y2="443.5" stroke="#787878" stroke-width="1" stroke-dasharray="4.5 1.5 2.5 1.5"/>
<line x1="112" x2="664" y1="395.5" y2="395.5" stroke="#787878" stroke-width="1" stroke-dasharray="4.5 1.5 2.5 1.5"/>
<line x1="474.5" x2="474.5" y1="348" y2="588" stroke="#000" stroke-width="1.3" stroke-dasharray="7 3.5"/>
<g clip-path="url(#plot)">
<path d="M121.3,559.6 L129.0,552.2 L136.7,559.6 L129.0,567.0 Z" fill="#fdae6b"/>
<path d="M146.9,559.8 L154.6,552.4 L162.2,559.8 L154.6,567.2 Z" fill="#fdae6b"/>
<path d="M172.4,559.8 L180.1,552.4 L187.8,559.8 L180.1,567.2 Z" fill="#fdae6b"/>
<path d="M198.0,549.5 L205.7,542.1 L213.3,549.5 L205.7,556.9 Z" fill="#fdae6b"/>
<path d="M223.5,472.6 L231.2,465.2 L238.9,472.6 L231.2,480.0 Z" fill="#fdae6b"/>
<path d="M249.1,472.3 L256.8,464.9 L264.4,472.3 L256.8,479.7 Z" fill="#fdae6b"/>
<path d="M274.6,462.9 L282.3,455.5 L290.0,462.9 L282.3,470.3 Z" fill="#fdae6b"/>
<path d="M300.2,434.1 L307.9,426.7 L315.6,434.1 L307.9,441.5 Z" fill="#fdae6b"/>
<path d="M325.7,423.0 L333.4,415.6 L341.1,423.0 L333.4,430.4 Z" fill="#fdae6b"/>
<path d="M351.3,414.5 L359.0,407.1 L366.7,414.5 L359.0,421.9 Z" fill="#fdae6b"/>
<path d="M376.8,395.2 L384.5,387.8 L392.2,395.2 L384.5,402.6 Z" fill="#fdae6b"/>
<path d="M402.4,434.0 L410.1,426.6 L417.8,434.0 L410.1,441.4 Z" fill="#fdae6b"/>
<path d="M427.9,541.6 L435.6,534.2 L443.3,541.6 L435.6,549.0 Z" fill="#fdae6b"/>
<path d="M453.5,560.2 L461.2,552.8 L468.9,560.2 L461.2,567.6 Z" fill="#fdae6b"/>
<path d="M479.0,577.3 L486.7,569.9 L494.4,577.3 L486.7,584.7 Z" fill="#fdae6b"/>
<path d="M504.6,579.2 L512.2,571.8 L520.0,579.2 L512.2,586.6 Z" fill="#fdae6b"/>
<path d="M530.1,578.9 L537.8,571.5 L545.5,578.9 L537.8,586.3 Z" fill="#fdae6b"/>
<path d="M555.6,580.0 L563.4,572.6 L571.1,580.0 L563.4,587.4 Z" fill="#fdae6b"/>
<path d="M581.2,582.5 L588.9,575.1 L596.6,582.5 L588.9,589.9 Z" fill="#fdae6b"/>
<path d="M606.8,583.6 L614.5,576.2 L622.2,583.6 L614.5,591.0 Z" fill="#fdae6b"/>
<path d="M632.3,586.0 L640.0,578.6 L647.7,586.0 L640.0,593.4 Z" fill="#fdae6b"/>
<circle cx="129.0" cy="456.9" r="4.6" fill="none" stroke="#858585" stroke-width="1.15"/>
<circle cx="154.6" cy="401.8" r="4.6" fill="none" stroke="#858585" stroke-width="1.15"/>
<circle cx="154.6" cy="443.3" r="4.6" fill="none" stroke="#858585" stroke-width="1.15"/>
<circle cx="180.1" cy="377.6" r="4.6" fill="none" stroke="#858585" stroke-width="1.15"/>
<circle cx="180.1" cy="443.3" r="4.6" fill="none" stroke="#858585" stroke-width="1.15"/>
<circle cx="205.7" cy="430.6" r="4.6" fill="none" stroke="#858585" stroke-width="1.15"/>
<circle cx="231.2" cy="417.1" r="4.6" fill="none" stroke="#858585" stroke-width="1.15"/>
<circle cx="256.8" cy="423.4" r="4.6" fill="none" stroke="#858585" stroke-width="1.15"/>
<circle cx="282.3" cy="408.4" r="4.6" fill="none" stroke="#858585" stroke-width="1.15"/>
<circle cx="282.3" cy="430.6" r="4.6" fill="none" stroke="#858585" stroke-width="1.15"/>
<circle cx="307.9" cy="448.2" r="4.6" fill="none" stroke="#858585" stroke-width="1.15"/>
<circle cx="333.4" cy="412.9" r="4.6" fill="none" stroke="#858585" stroke-width="1.15"/>
<circle cx="359.0" cy="430.6" r="4.6" fill="none" stroke="#858585" stroke-width="1.15"/>
<circle cx="359.0" cy="436.7" r="4.6" fill="none" stroke="#858585" stroke-width="1.15"/>
<circle cx="384.5" cy="397.7" r="4.6" fill="none" stroke="#858585" stroke-width="1.15"/>
<circle cx="384.5" cy="425.0" r="4.6" fill="none" stroke="#858585" stroke-width="1.15"/>
<circle cx="384.5" cy="434.7" r="4.6" fill="none" stroke="#858585" stroke-width="1.15"/>
<circle cx="384.5" cy="483.5" r="4.6" fill="none" stroke="#858585" stroke-width="1.15"/>
<circle cx="410.1" cy="479.1" r="4.6" fill="none" stroke="#858585" stroke-width="1.15"/>
<circle cx="410.1" cy="484.1" r="4.6" fill="none" stroke="#858585" stroke-width="1.15"/>
<circle cx="410.1" cy="496.0" r="4.6" fill="none" stroke="#858585" stroke-width="1.15"/>
<circle cx="435.6" cy="525.8" r="4.6" fill="none" stroke="#858585" stroke-width="1.15"/>
<circle cx="435.6" cy="527.6" r="4.6" fill="none" stroke="#858585" stroke-width="1.15"/>
<circle cx="461.2" cy="584.4" r="4.6" fill="none" stroke="#858585" stroke-width="1.15"/>
<circle cx="512.2" cy="532.7" r="4.6" fill="none" stroke="#858585" stroke-width="1.15"/>
<circle cx="512.2" cy="540.4" r="4.6" fill="none" stroke="#858585" stroke-width="1.15"/>
<circle cx="537.8" cy="523.0" r="4.6" fill="none" stroke="#858585" stroke-width="1.15"/>
<circle cx="588.9" cy="538.6" r="4.6" fill="none" stroke="#858585" stroke-width="1.15"/>
<circle cx="588.9" cy="564.7" r="4.6" fill="none" stroke="#858585" stroke-width="1.15"/>
<g opacity="0.88"><circle cx="129.0" cy="488.0" r="6.3" fill="url(#sph)"/><circle cx="127.1" cy="486.2" r="3.7" fill="url(#glint)"/></g>
<g opacity="0.88"><circle cx="154.6" cy="431.0" r="6.3" fill="url(#sph)"/><circle cx="152.7" cy="429.2" r="3.7" fill="url(#glint)"/></g>
<g opacity="0.88"><circle cx="180.1" cy="454.2" r="6.3" fill="url(#sph)"/><circle cx="178.2" cy="452.4" r="3.7" fill="url(#glint)"/></g>
<g opacity="0.88"><circle cx="205.7" cy="402.4" r="6.3" fill="url(#sph)"/><circle cx="203.8" cy="400.6" r="3.7" fill="url(#glint)"/></g>
<g opacity="0.88"><circle cx="231.2" cy="391.9" r="6.3" fill="url(#sph)"/><circle cx="229.3" cy="390.1" r="3.7" fill="url(#glint)"/></g>
<g opacity="0.88"><circle cx="256.8" cy="402.0" r="6.3" fill="url(#sph)"/><circle cx="254.8" cy="400.2" r="3.7" fill="url(#glint)"/></g>
<g opacity="0.88"><circle cx="282.3" cy="388.9" r="6.3" fill="url(#sph)"/><circle cx="280.4" cy="387.1" r="3.7" fill="url(#glint)"/></g>
<g opacity="0.88"><circle cx="307.9" cy="402.4" r="6.3" fill="url(#sph)"/><circle cx="306.0" cy="400.6" r="3.7" fill="url(#glint)"/></g>
<g opacity="0.88"><circle cx="333.4" cy="430.6" r="6.3" fill="url(#sph)"/><circle cx="331.5" cy="428.8" r="3.7" fill="url(#glint)"/></g>
<g opacity="0.88"><circle cx="359.0" cy="447.8" r="6.3" fill="url(#sph)"/><circle cx="357.1" cy="446.0" r="3.7" fill="url(#glint)"/></g>
<g opacity="0.88"><circle cx="384.5" cy="415.5" r="6.3" fill="url(#sph)"/><circle cx="382.6" cy="413.7" r="3.7" fill="url(#glint)"/></g>
<g opacity="0.88"><circle cx="410.1" cy="500.3" r="6.3" fill="url(#sph)"/><circle cx="408.2" cy="498.5" r="3.7" fill="url(#glint)"/></g>
<g opacity="0.88"><circle cx="435.6" cy="543.6" r="6.3" fill="url(#sph)"/><circle cx="433.7" cy="541.8" r="3.7" fill="url(#glint)"/></g>
<g opacity="0.88"><circle cx="461.2" cy="550.7" r="6.3" fill="url(#sph)"/><circle cx="459.3" cy="548.9" r="3.7" fill="url(#glint)"/></g>
<g opacity="0.88"><circle cx="486.7" cy="564.8" r="6.3" fill="url(#sph)"/><circle cx="484.8" cy="563.0" r="3.7" fill="url(#glint)"/></g>
<g opacity="0.88"><circle cx="512.2" cy="512.4" r="6.3" fill="url(#sph)"/><circle cx="510.4" cy="510.6" r="3.7" fill="url(#glint)"/></g>
<g opacity="0.88"><circle cx="537.8" cy="506.0" r="6.3" fill="url(#sph)"/><circle cx="535.9" cy="504.2" r="3.7" fill="url(#glint)"/></g>
<g opacity="0.88"><circle cx="563.4" cy="517.2" r="6.3" fill="url(#sph)"/><circle cx="561.5" cy="515.4" r="3.7" fill="url(#glint)"/></g>
<g opacity="0.88"><circle cx="588.9" cy="512.2" r="6.3" fill="url(#sph)"/><circle cx="587.0" cy="510.4" r="3.7" fill="url(#glint)"/></g>
<g opacity="0.88"><circle cx="614.5" cy="525.3" r="6.3" fill="url(#sph)"/><circle cx="612.6" cy="523.5" r="3.7" fill="url(#glint)"/></g>
<g opacity="0.88"><circle cx="640.0" cy="542.9" r="6.3" fill="url(#sph)"/><circle cx="638.1" cy="541.1" r="3.7" fill="url(#glint)"/></g>
<circle cx="461.2" cy="550.3" r="4.6" fill="none" stroke="#858585" stroke-width="1.15"/>
<circle cx="486.7" cy="565.8" r="4.6" fill="none" stroke="#858585" stroke-width="1.15"/>
<circle cx="640.0" cy="549.7" r="4.6" fill="none" stroke="#858585" stroke-width="1.15"/>
<polygon points="129.0,545.9 130.7,550.9 135.9,550.9 131.7,554.1 133.3,559.1 129.0,556.0 124.7,559.1 126.3,554.1 122.1,550.9 127.3,550.9" fill="#ff0000"/>
<polygon points="154.6,504.2 156.2,509.2 161.5,509.2 157.2,512.4 158.8,517.4 154.6,514.3 150.3,517.4 151.9,512.4 147.6,509.2 152.9,509.2" fill="#ff0000"/>
<polygon points="180.1,489.8 181.8,494.8 187.0,494.8 182.8,498.0 184.4,503.0 180.1,499.9 175.8,503.0 177.4,498.0 173.2,494.8 178.4,494.8" fill="#ff0000"/>
<polygon points="205.7,445.8 207.3,450.8 212.6,450.8 208.3,454.0 209.9,459.0 205.7,455.9 201.4,459.0 203.0,454.0 198.7,450.8 204.0,450.8" fill="#ff0000"/>
<polygon points="231.2,415.5 232.9,420.5 238.1,420.5 233.9,423.7 235.5,428.7 231.2,425.6 226.9,428.7 228.5,423.7 224.3,420.5 229.5,420.5" fill="#ff0000"/>
<polygon points="256.8,414.4 258.4,419.4 263.7,419.4 259.4,422.6 261.0,427.6 256.8,424.5 252.5,427.6 254.1,422.6 249.8,419.4 255.1,419.4" fill="#ff0000"/>
<polygon points="282.3,373.6 284.0,378.6 289.2,378.6 285.0,381.8 286.6,386.8 282.3,383.7 278.0,386.8 279.6,381.8 275.4,378.6 280.6,378.6" fill="#ff0000"/>
<polygon points="307.9,384.7 309.5,389.7 314.8,389.7 310.5,392.9 312.1,397.9 307.9,394.8 303.6,397.9 305.2,392.9 300.9,389.7 306.2,389.7" fill="#ff0000"/>
<polygon points="333.4,379.0 335.1,384.0 340.3,384.0 336.1,387.2 337.7,392.2 333.4,389.1 329.1,392.2 330.7,387.2 326.5,384.0 331.7,384.0" fill="#ff0000"/>
<polygon points="359.0,441.6 360.6,446.6 365.9,446.6 361.6,449.8 363.2,454.8 359.0,451.7 354.7,454.8 356.3,449.8 352.0,446.6 357.3,446.6" fill="#ff0000"/>
<polygon points="384.5,417.0 386.2,422.0 391.4,422.0 387.2,425.2 388.8,430.2 384.5,427.1 380.2,430.2 381.8,425.2 377.6,422.0 382.8,422.0" fill="#ff0000"/>
<polygon points="410.1,494.1 411.7,499.1 417.0,499.1 412.7,502.3 414.3,507.3 410.1,504.2 405.8,507.3 407.4,502.3 403.1,499.1 408.4,499.1" fill="#ff0000"/>
<polygon points="435.6,530.0 437.3,535.0 442.5,535.0 438.3,538.2 439.9,543.2 435.6,540.1 431.3,543.2 432.9,538.2 428.7,535.0 433.9,535.0" fill="#ff0000"/>
<polygon points="461.2,511.8 462.8,516.8 468.1,516.8 463.8,520.0 465.4,525.0 461.2,521.9 456.9,525.0 458.5,520.0 454.2,516.8 459.5,516.8" fill="#ff0000"/>
<polygon points="486.7,541.5 488.4,546.5 493.6,546.5 489.4,549.7 491.0,554.7 486.7,551.6 482.4,554.7 484.0,549.7 479.8,546.5 485.0,546.5" fill="#ff0000"/>
<polygon points="512.2,501.8 513.9,506.8 519.2,506.8 514.9,510.0 516.5,515.0 512.2,511.9 508.0,515.0 509.6,510.0 505.3,506.8 510.6,506.8" fill="#ff0000"/>
<polygon points="537.8,500.9 539.5,505.9 544.7,505.9 540.5,509.1 542.1,514.1 537.8,511.0 533.5,514.1 535.1,509.1 530.9,505.9 536.1,505.9" fill="#ff0000"/>
<polygon points="563.4,511.0 565.0,516.0 570.3,516.0 566.0,519.2 567.6,524.2 563.4,521.1 559.1,524.2 560.7,519.2 556.4,516.0 561.7,516.0" fill="#ff0000"/>
<polygon points="588.9,517.6 590.6,522.6 595.8,522.6 591.6,525.8 593.2,530.8 588.9,527.7 584.6,530.8 586.2,525.8 582.0,522.6 587.2,522.6" fill="#ff0000"/>
<polygon points="614.5,532.4 616.1,537.4 621.4,537.4 617.1,540.6 618.7,545.6 614.5,542.5 610.2,545.6 611.8,540.6 607.5,537.4 612.8,537.4" fill="#ff0000"/>
<polygon points="640.0,563.1 641.7,568.1 646.9,568.1 642.7,571.3 644.3,576.3 640.0,573.2 635.7,576.3 637.3,571.3 633.1,568.1 638.3,568.1" fill="#ff0000"/>
</g>
<text transform="translate(235.96 525.80)" fill="#c8101e"><tspan font-size="15.9" font-weight="bold">Exceptional plasticity</tspan></text>
<text transform="translate(315.00 545.60)" fill="#c8101e"><tspan font-size="15" font-weight="bold">+</tspan></text>
<text transform="translate(253.60 565.60)" fill="#c8101e"><tspan font-size="15.9" font-weight="bold">high power factor</tspan></text>
<text transform="translate(529.60 366.60)" fill="#000"><tspan font-size="12.48" font-weight="bold">This work</tspan></text>
<path d="M535.6,381.9 L543.3,374.5 L551.0,381.9 L543.3,389.3 Z" fill="#fdae6b"/>
<g opacity="0.88"><circle cx="543.4" cy="400.3" r="6.3" fill="url(#sph)"/><circle cx="541.5" cy="398.5" r="3.7" fill="url(#glint)"/></g>
<polygon points="543.5,412.9 545.0,417.6 550.0,417.6 546.0,420.5 547.5,425.2 543.5,422.3 539.5,425.2 541.0,420.5 537.0,417.6 542.0,417.6" fill="#ff0000"/>
<text transform="translate(566.50 383.80)" fill="#000"><tspan font-size="15.5" font-weight="normal" font-style="italic">&#949;</tspan><tspan font-size="10.6" font-weight="bold" font-style="italic" dy="3.00">max</tspan></text>
<text transform="translate(568.60 404.60)" fill="#000" stroke="#000" stroke-width="0.3"><tspan font-size="12.3" font-weight="normal" font-style="italic">PF</tspan></text>
<text transform="translate(567.62 422.80)" fill="#000" stroke="#000" stroke-width="0.3"><tspan font-size="12.3" font-weight="normal" font-style="italic">zT</tspan></text>
<text transform="translate(529.60 438.90)" fill="#000"><tspan font-size="11.57" font-weight="bold">Previous works</tspan></text>
<circle cx="543.5" cy="455.0" r="4.6" fill="none" stroke="#858585" stroke-width="1.15"/>
<text transform="translate(553.60 458.80)" fill="#000" stroke="#000" stroke-width="0.3"><tspan font-size="12.3" font-weight="normal" font-style="italic">PF</tspan></text>
<text transform="translate(574.00 459.20)" fill="#000"><tspan font-size="12.37" font-weight="bold">{Refs. 31,32}</tspan></text>
<line x1="111" x2="666" y1="347.0" y2="347.0" stroke="#000" stroke-width="2"/>
<line x1="111" x2="659" y1="589.0" y2="589.0" stroke="#000" stroke-width="2"/>
<line x1="129.0" x2="129.0" y1="589.0" y2="594.0" stroke="#000" stroke-width="2"/>
<line x1="180.1" x2="180.1" y1="589.0" y2="594.0" stroke="#000" stroke-width="2"/>
<line x1="231.2" x2="231.2" y1="589.0" y2="594.0" stroke="#000" stroke-width="2"/>
<line x1="282.3" x2="282.3" y1="589.0" y2="594.0" stroke="#000" stroke-width="2"/>
<line x1="333.4" x2="333.4" y1="589.0" y2="594.0" stroke="#000" stroke-width="2"/>
<line x1="384.5" x2="384.5" y1="589.0" y2="594.0" stroke="#000" stroke-width="2"/>
<line x1="435.6" x2="435.6" y1="589.0" y2="594.0" stroke="#000" stroke-width="2"/>
<line x1="486.7" x2="486.7" y1="589.0" y2="594.0" stroke="#000" stroke-width="2"/>
<line x1="537.8" x2="537.8" y1="589.0" y2="594.0" stroke="#000" stroke-width="2"/>
<line x1="588.9" x2="588.9" y1="589.0" y2="594.0" stroke="#000" stroke-width="2"/>
<line x1="640.0" x2="640.0" y1="589.0" y2="594.0" stroke="#000" stroke-width="2"/>
<path d="M103.0,590.0 V346.0" stroke="#ed7d31" stroke-width="2.3" fill="none"/>
<line x1="103.0" x2="112.0" y1="589.0" y2="589.0" stroke="#ed7d31" stroke-width="2"/>
<line x1="103.0" x2="108.0" y1="564.8" y2="564.8" stroke="#ed7d31" stroke-width="2"/>
<line x1="103.0" x2="112.0" y1="540.6" y2="540.6" stroke="#ed7d31" stroke-width="2"/>
<line x1="103.0" x2="108.0" y1="516.4" y2="516.4" stroke="#ed7d31" stroke-width="2"/>
<line x1="103.0" x2="112.0" y1="492.2" y2="492.2" stroke="#ed7d31" stroke-width="2"/>
<line x1="103.0" x2="108.0" y1="468.0" y2="468.0" stroke="#ed7d31" stroke-width="2"/>
<line x1="103.0" x2="112.0" y1="443.8" y2="443.8" stroke="#ed7d31" stroke-width="2"/>
<line x1="103.0" x2="108.0" y1="419.6" y2="419.6" stroke="#ed7d31" stroke-width="2"/>
<line x1="103.0" x2="112.0" y1="395.4" y2="395.4" stroke="#ed7d31" stroke-width="2"/>
<line x1="103.0" x2="108.0" y1="371.2" y2="371.2" stroke="#ed7d31" stroke-width="2"/>
<line x1="103.0" x2="112.0" y1="347.0" y2="347.0" stroke="#ed7d31" stroke-width="2"/>
<text transform="translate(82.14 595.00)" fill="#ed7d31"><tspan font-size="18.8" font-weight="bold">0</tspan></text>
<text transform="translate(82.14 546.60)" fill="#ed7d31"><tspan font-size="18.8" font-weight="bold">5</tspan></text>
<text transform="translate(71.69 498.20)" fill="#ed7d31"><tspan font-size="18.8" font-weight="bold">10</tspan></text>
<text transform="translate(71.69 449.80)" fill="#ed7d31"><tspan font-size="18.8" font-weight="bold">15</tspan></text>
<text transform="translate(71.69 401.40)" fill="#ed7d31"><tspan font-size="18.8" font-weight="bold">20</tspan></text>
<text transform="translate(71.69 353.00)" fill="#ed7d31"><tspan font-size="18.8" font-weight="bold">25</tspan></text>
<path d="M665.0,590.0 V346.0" stroke="#1077be" stroke-width="2" fill="none"/>
<line x1="665.0" x2="659.0" y1="589.0" y2="589.0" stroke="#1077be" stroke-width="2"/>
<line x1="665.0" x2="661.8" y1="556.0" y2="556.0" stroke="#1077be" stroke-width="2"/>
<line x1="665.0" x2="659.0" y1="523.0" y2="523.0" stroke="#1077be" stroke-width="2"/>
<line x1="665.0" x2="661.8" y1="490.0" y2="490.0" stroke="#1077be" stroke-width="2"/>
<line x1="665.0" x2="659.0" y1="456.9" y2="456.9" stroke="#1077be" stroke-width="2"/>
<line x1="665.0" x2="661.8" y1="423.9" y2="423.9" stroke="#1077be" stroke-width="2"/>
<line x1="665.0" x2="659.0" y1="390.9" y2="390.9" stroke="#1077be" stroke-width="2"/>
<line x1="665.0" x2="661.8" y1="357.9" y2="357.9" stroke="#1077be" stroke-width="2"/>
<text transform="translate(671.80 594.90)" fill="#1077be"><tspan font-size="18.8" font-weight="bold">0</tspan></text>
<text transform="translate(671.80 528.87)" fill="#1077be"><tspan font-size="18.8" font-weight="bold">15</tspan></text>
<text transform="translate(671.80 462.84)" fill="#1077be"><tspan font-size="18.8" font-weight="bold">30</tspan></text>
<text transform="translate(671.80 396.81)" fill="#1077be"><tspan font-size="18.8" font-weight="bold">45</tspan></text>
<path d="M727.0,590.0 V346.0" stroke="#ff0000" stroke-width="2" fill="none"/>
<line x1="727.0" x2="722.0" y1="589.0" y2="589.0" stroke="#ff0000" stroke-width="2"/>
<line x1="727.0" x2="724.0" y1="550.2" y2="550.2" stroke="#ff0000" stroke-width="2"/>
<line x1="727.0" x2="722.0" y1="511.4" y2="511.4" stroke="#ff0000" stroke-width="2"/>
<line x1="727.0" x2="724.0" y1="472.6" y2="472.6" stroke="#ff0000" stroke-width="2"/>
<line x1="727.0" x2="722.0" y1="433.8" y2="433.8" stroke="#ff0000" stroke-width="2"/>
<line x1="727.0" x2="724.0" y1="395.0" y2="395.0" stroke="#ff0000" stroke-width="2"/>
<line x1="727.0" x2="722.0" y1="356.2" y2="356.2" stroke="#ff0000" stroke-width="2"/>
<text transform="translate(732.78 594.30)" fill="#ff0000"><tspan font-size="17.3" font-weight="bold">0.0</tspan></text>
<text transform="translate(732.78 516.70)" fill="#ff0000"><tspan font-size="17.3" font-weight="bold">0.4</tspan></text>
<text transform="translate(732.78 439.10)" fill="#ff0000"><tspan font-size="17.3" font-weight="bold">0.8</tspan></text>
<text transform="translate(732.78 361.50)" fill="#ff0000"><tspan font-size="17.3" font-weight="bold">1.2</tspan></text>
<text transform="translate(56.60 510.60) rotate(-90) scale(1.0531 1)" fill="#ed7d31"><tspan font-size="24" font-weight="bold" font-style="italic">&#949;</tspan><tspan font-size="15.5" font-weight="bold" font-style="italic" dy="5.50">max</tspan><tspan font-size="21" font-weight="bold" dy="-5.50"> (%)</tspan></text>
<text transform="translate(715.50 546.50) rotate(-90) scale(1.0061 1)" fill="#1077be"><tspan font-size="20.5" font-weight="bold" font-style="italic">PF</tspan><tspan font-size="20.5" font-weight="bold"> (&#181;W cm</tspan><tspan font-size="13.5" font-weight="bold" dy="-7.00">-1</tspan><tspan font-size="20.5" font-weight="bold" dy="7.00"> K</tspan><tspan font-size="13.5" font-weight="bold" dy="-7.00">-2</tspan><tspan font-size="20.5" font-weight="bold" dy="7.00">)</tspan></text>
<text transform="translate(779.30 482.20) rotate(-90)" fill="#ff0000"><tspan font-size="21.5" font-weight="bold" font-style="italic">zT</tspan></text>
<text transform="translate(124.55 610.00)" fill="#000"><tspan font-size="17.8" font-weight="bold">1</tspan></text>
<text transform="translate(165.68 610.00)" fill="#000"><tspan font-size="17.8" font-weight="bold">0.8</tspan></text>
<text transform="translate(221.73 610.00)" fill="#000"><tspan font-size="17.8" font-weight="bold">0.6</tspan></text>
<text transform="translate(272.48 610.00)" fill="#000"><tspan font-size="17.8" font-weight="bold">0.4</tspan></text>
<text transform="translate(323.03 610.00)" fill="#000"><tspan font-size="17.8" font-weight="bold">0.2</tspan></text>
<text transform="translate(379.31 610.00)" fill="#000"><tspan font-size="17.8" font-weight="bold">0</tspan></text>
<text transform="translate(425.33 610.00)" fill="#000"><tspan font-size="17.8" font-weight="bold">0.2</tspan></text>
<text transform="translate(475.73 610.00)" fill="#000"><tspan font-size="17.8" font-weight="bold">0.4</tspan></text>
<text transform="translate(531.28 610.00)" fill="#000"><tspan font-size="17.8" font-weight="bold">0.6</tspan></text>
<text transform="translate(582.38 610.00)" fill="#000"><tspan font-size="17.8" font-weight="bold">0.8</tspan></text>
<text transform="translate(633.35 610.00)" fill="#000"><tspan font-size="17.8" font-weight="bold">1</tspan></text>
<text transform="translate(104.70 641.40)" fill="#000"><tspan font-size="16.62" font-weight="bold">Sb</tspan><tspan font-size="11.08" font-weight="bold" dy="4.63">2</tspan><tspan font-size="16.62" font-weight="bold" dy="-4.63">Te</tspan><tspan font-size="11.08" font-weight="bold" dy="4.63">3</tspan></text>
<text transform="translate(361.70 642.00)" fill="#000"><tspan font-size="16.34" font-weight="bold">Bi</tspan><tspan font-size="10.89" font-weight="bold" dy="4.56">2</tspan><tspan font-size="16.34" font-weight="bold" dy="-4.56">Te</tspan><tspan font-size="10.89" font-weight="bold" dy="4.56">3</tspan></text>
<text transform="translate(620.00 641.30)" fill="#000"><tspan font-size="15.92" font-weight="bold">Bi</tspan><tspan font-size="10.62" font-weight="bold" dy="4.44">2</tspan><tspan font-size="15.92" font-weight="bold" dy="-4.44">Se</tspan><tspan font-size="10.62" font-weight="bold" dy="4.44">3</tspan></text>
<text transform="translate(215.59 631.60)" fill="#000"><tspan font-size="16.3" font-weight="bold">(Bi</tspan><tspan font-size="10.9" font-weight="bold" dy="4.50">1-</tspan><tspan font-size="10.9" font-weight="bold" font-style="italic">y</tspan><tspan font-size="16.3" font-weight="bold" dy="-4.50">Sb</tspan><tspan font-size="10.9" font-weight="bold" font-style="italic" dy="4.50">y</tspan><tspan font-size="16.3" font-weight="bold" dy="-4.50">)</tspan><tspan font-size="10.9" font-weight="bold" dy="4.50">2</tspan><tspan font-size="16.3" font-weight="bold" dy="-4.50">Te</tspan><tspan font-size="10.9" font-weight="bold" dy="4.50">3</tspan></text>
<text transform="translate(477.58 631.80)" fill="#000"><tspan font-size="16.3" font-weight="bold">Bi</tspan><tspan font-size="10.9" font-weight="bold" dy="4.50">2</tspan><tspan font-size="16.3" font-weight="bold" dy="-4.50">(Te</tspan><tspan font-size="10.9" font-weight="bold" dy="4.50">1-</tspan><tspan font-size="10.9" font-weight="bold" font-style="italic">x</tspan><tspan font-size="16.3" font-weight="bold" dy="-4.50">Se</tspan><tspan font-size="10.9" font-weight="bold" font-style="italic" dy="4.50">x</tspan><tspan font-size="16.3" font-weight="bold" dy="-4.50">)</tspan><tspan font-size="10.9" font-weight="bold" dy="4.50">3</tspan></text>
<line x1="170" x2="355.5" y1="640.7" y2="640.7" stroke="#000" stroke-width="1.7"/>
<path d="M160.1,640.8 L173.2,637.4 L170.6,640.8 L173.2,644.2 Z" fill="#000"/>
<line x1="414.2" x2="604" y1="640.7" y2="640.7" stroke="#000" stroke-width="1.7"/>
<path d="M615.1,640.7 L602.0,637.3 L604.6,640.7 L602.0,644.1 Z" fill="#000"/>
</svg></body></html>
